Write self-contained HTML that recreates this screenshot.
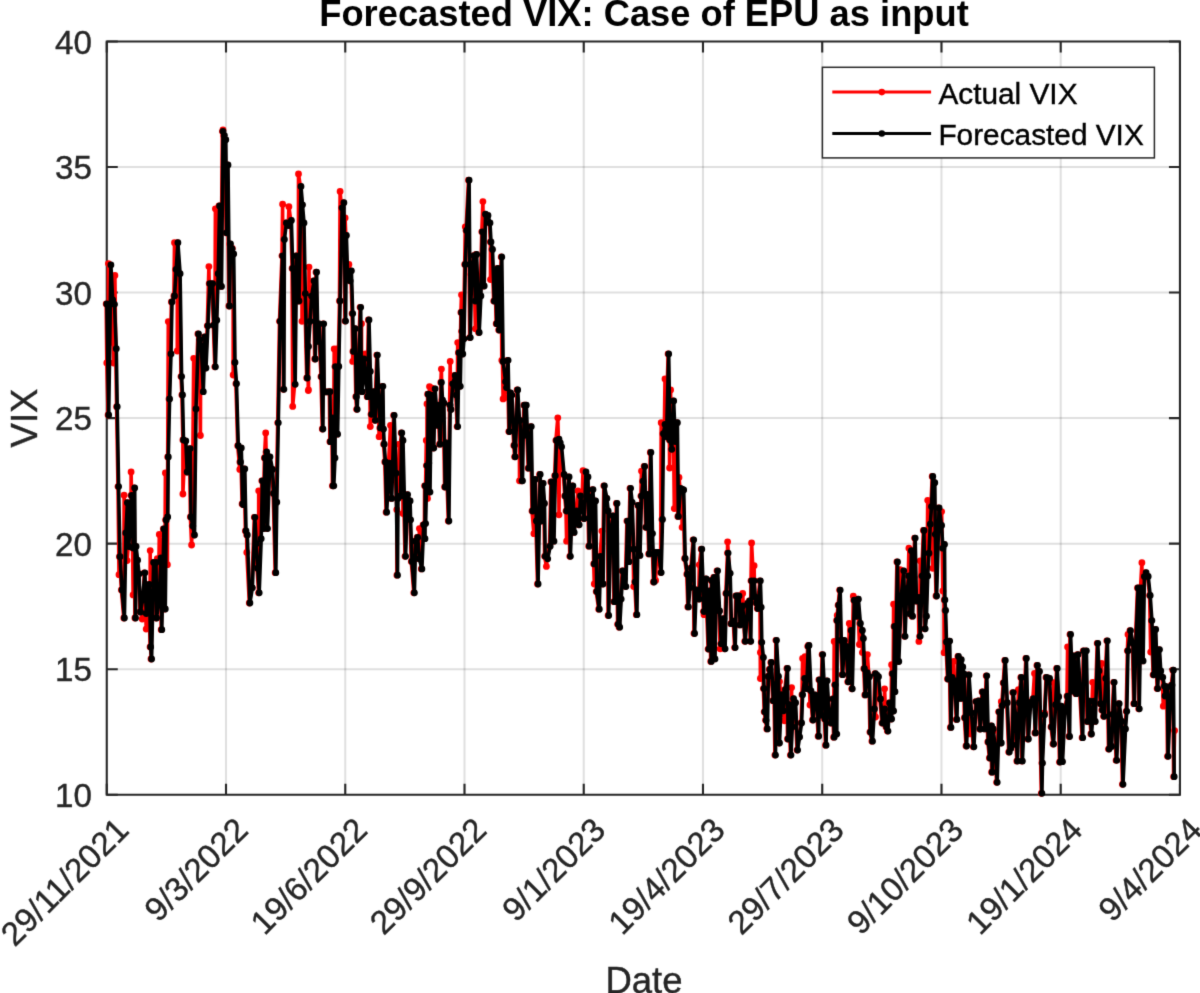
<!DOCTYPE html>
<html><head><meta charset="utf-8"><title>Forecasted VIX</title>
<style>html,body{margin:0;padding:0;background:#fff;width:1200px;height:993px;overflow:hidden}body{position:relative}</style>
</head><body><div style="position:absolute;left:0;top:0;width:1200px;height:993px"><svg width="1200" height="993" viewBox="0 0 1200 993" style="position:absolute;left:0;top:0"><rect width="1200" height="993" fill="#fff"/><path d="M226.01 41.5V794.72M345.25 41.5V794.72M464.50 41.5V794.72M583.74 41.5V794.72M702.98 41.5V794.72M822.22 41.5V794.72M941.47 41.5V794.72M1060.71 41.5V794.72" stroke="rgba(38,38,38,0.15)" stroke-width="2" fill="none"/><path d="M106.77 669.18H1179.95M106.77 543.65H1179.95M106.77 418.11H1179.95M106.77 292.57H1179.95M106.77 167.04H1179.95" stroke="rgba(38,38,38,0.15)" stroke-width="2" fill="none"/><path d="M106.77 41.5H1179.95V794.72H106.77Z" stroke="#262626" stroke-width="2.1" fill="none"/><path d="M106.77 794.72v-11M106.77 41.5v11M226.01 794.72v-11M226.01 41.5v11M345.25 794.72v-11M345.25 41.5v11M464.50 794.72v-11M464.50 41.5v11M583.74 794.72v-11M583.74 41.5v11M702.98 794.72v-11M702.98 41.5v11M822.22 794.72v-11M822.22 41.5v11M941.47 794.72v-11M941.47 41.5v11M1060.71 794.72v-11M1060.71 41.5v11M1179.95 794.72v-11M1179.95 41.5v11M106.77 794.72h11M1179.95 794.72h-11M106.77 669.18h11M1179.95 669.18h-11M106.77 543.65h11M1179.95 543.65h-11M106.77 418.11h11M1179.95 418.11h-11M106.77 292.57h11M1179.95 292.57h-11M106.77 167.04h11M1179.95 167.04h-11M106.77 41.50h11M1179.95 41.50h-11" stroke="#262626" stroke-width="2.1" fill="none"/><path d="M106.2 304.0 L106.8 363.0 L108.1 415.0 L108.4 263.6 L110.3 265.0 L111.8 342.4 L112.1 300.0 L113.6 363.0 L113.9 304.3 L114.9 275.4 L115.7 348.7 L116.6 406.7 L118.0 486.6 L119.0 574.7 L119.4 556.7 L121.4 590.0 L123.8 618.0 L124.1 495.2 L125.3 533.0 L126.8 502.7 L127.1 560.6 L128.2 546.5 L129.7 521.0 L131.1 495.4 L131.1 472.0 L132.6 548.0 L133.1 594.9 L134.1 488.0 L134.9 618.0 L135.5 546.5 L137.0 560.2 L138.4 574.0 L139.9 612.0 L141.9 600.0 L142.2 619.0 L144.3 572.8 L145.7 613.6 L146.2 629.1 L147.2 599.0 L148.7 584.4 L150.1 647.0 L150.2 550.6 L151.0 659.0 L153.0 562.5 L155.4 562.5 L156.0 618.0 L157.3 558.6 L158.4 600.0 L159.3 534.5 L160.4 558.0 L161.2 629.7 L163.3 529.0 L164.7 609.0 L165.4 473.0 L165.6 520.0 L167.1 517.0 L167.4 564.7 L167.7 457.0 L168.3 321.6 L169.0 399.0 L170.4 354.0 L171.4 302.0 L173.9 296.0 L174.5 242.7 L175.6 269.4 L177.3 242.7 L177.3 351.0 L179.5 273.7 L181.0 376.6 L181.9 395.0 L182.9 440.0 L182.9 494.0 L185.2 441.0 L186.6 472.0 L188.1 460.3 L189.6 448.6 L190.4 517.0 L191.6 545.0 L192.2 526.0 L193.7 358.3 L193.9 535.0 L195.4 409.0 L197.9 334.0 L199.3 339.8 L200.4 435.5 L200.7 345.6 L202.7 391.7 L204.4 337.0 L205.4 368.0 L207.3 325.8 L208.9 266.6 L209.2 283.6 L210.6 283.6 L212.0 283.6 L213.4 325.2 L214.8 366.8 L215.4 208.8 L216.2 320.2 L217.6 273.7 L219.0 206.0 L220.9 286.4 L222.4 131.3 L223.0 129.9 L223.8 135.5 L225.2 139.7 L226.1 232.8 L227.4 165.0 L228.9 306.0 L229.9 244.0 L231.5 249.0 L232.3 248.3 L233.1 254.0 L233.2 375.0 L234.4 362.5 L235.9 383.7 L237.7 445.7 L239.8 469.4 L239.9 462.0 L240.7 448.0 L242.1 504.0 L243.0 504.7 L244.2 469.0 L245.4 531.0 L246.7 535.0 L246.8 552.5 L249.3 603.0 L251.8 587.8 L254.3 517.3 L255.6 543.7 L257.1 568.2 L258.6 592.8 L258.7 490.8 L260.6 538.7 L261.8 480.8 L263.1 528.6 L264.4 458.0 L265.7 432.9 L266.1 451.8 L266.9 528.6 L269.4 456.8 L271.9 469.4 L273.2 493.4 L275.2 572.7 L276.2 502.2 L277.7 422.8 L279.5 321.3 L282.0 255.8 L282.6 204.2 L283.3 389.3 L283.8 239.4 L285.8 223.0 L288.3 225.6 L288.9 206.7 L290.8 220.5 L292.1 268.4 L292.7 406.4 L294.6 384.3 L295.9 255.8 L298.4 301.0 L298.5 173.9 L300.4 186.5 L301.9 204.8 L302.0 321.3 L303.4 223.0 L304.7 293.6 L306.7 378.0 L307.9 346.5 L308.3 390.5 L308.5 390.0 L309.0 267.1 L309.4 321.3 L311.0 296.1 L313.5 281.0 L314.7 359.0 L316.0 272.2 L317.3 341.4 L318.5 323.8 L321.0 376.7 L322.3 429.0 L323.1 323.8 L323.6 391.8 L325.5 391.8 L327.4 391.8 L329.4 391.7 L329.9 441.7 L331.9 417.8 L332.4 485.8 L333.2 485.8 L334.2 349.0 L334.4 458.0 L334.9 366.6 L336.3 348.8 L337.0 434.2 L338.2 366.5 L339.5 301.0 L340.1 191.4 L341.5 207.8 L343.3 202.7 L345.0 321.1 L345.1 217.9 L345.8 235.5 L347.0 275.8 L348.9 264.5 L349.6 280.8 L350.8 270.8 L352.1 313.6 L352.7 361.4 L352.9 351.4 L354.6 328.7 L355.8 396.7 L356.6 409.3 L358.4 361.4 L360.1 307.3 L360.9 391.3 L361.5 323.7 L361.6 391.7 L363.4 358.9 L364.7 376.5 L365.3 353.9 L367.2 396.7 L368.4 319.9 L369.7 371.5 L370.3 426.6 L371.0 414.3 L373.5 391.7 L374.7 420.3 L376.8 355.1 L378.5 404.3 L379.1 436.7 L379.8 427.9 L382.3 386.3 L382.9 429.1 L383.6 444.2 L384.8 461.9 L386.1 512.2 L388.6 463.1 L390.5 425.3 L391.1 498.4 L393.6 415.3 L395.4 473.2 L396.8 509.7 L396.9 575.2 L397.4 498.4 L399.3 444.2 L399.9 495.9 L401.2 432.9 L402.4 440.5 L403.0 513.5 L403.7 495.9 L405.0 556.3 L407.0 494.6 L409.5 500.9 L410.0 519.8 L411.3 561.4 L413.8 592.8 L415.0 541.2 L417.1 537.4 L418.8 558.8 L419.4 528.6 L421.3 568.9 L423.1 524.8 L424.4 538.7 L424.6 485.8 L425.0 523.6 L426.3 440.5 L426.4 465.6 L426.9 490.8 L427.0 403.9 L427.5 498.4 L427.6 394.2 L428.2 463.1 L428.9 395.0 L429.4 492.1 L429.5 386.6 L430.7 395.1 L431.3 388.0 L431.9 420.0 L433.2 448.0 L434.5 388.8 L437.0 425.3 L438.3 405.2 L439.5 444.2 L440.8 382.5 L441.4 369.1 L442.0 400.2 L443.3 403.0 L444.6 487.0 L445.8 443.0 L448.3 521.0 L449.6 405.2 L450.2 361.5 L450.4 409.4 L452.1 383.8 L454.6 375.4 L455.9 395.1 L457.1 426.6 L457.7 342.6 L458.4 352.7 L459.7 386.3 L460.9 312.4 L461.5 294.8 L461.6 331.3 L462.2 354.0 L463.4 338.8 L464.7 264.5 L465.3 226.8 L466.0 230.5 L468.5 180.2 L469.7 337.6 L471.0 274.6 L473.5 255.7 L474.8 301.1 L475.4 328.8 L476.0 254.5 L478.6 332.5 L480.3 296.0 L481.8 231.8 L482.9 201.6 L483.6 286.0 L484.9 214.2 L487.4 215.4 L489.4 223.0 L490.4 241.9 L490.5 279.6 L491.9 249.4 L493.7 301.1 L494.9 272.1 L496.2 323.7 L497.4 268.3 L498.7 330.0 L501.2 257.0 L501.8 360.3 L502.5 361.5 L503.1 398.9 L504.3 398.0 L505.0 381.7 L505.9 387.6 L507.5 360.3 L508.8 431.6 L510.0 393.0 L511.3 395.1 L513.8 445.5 L514.6 456.8 L517.1 390.0 L518.9 420.3 L519.4 420.3 L519.5 480.8 L521.4 480.8 L521.9 480.8 L522.6 434.2 L523.2 435.4 L523.9 405.2 L525.7 405.2 L528.2 468.2 L530.7 426.6 L532.0 511.0 L533.9 533.7 L534.5 479.5 L535.8 521.0 L537.5 584.0 L539.6 474.5 L540.8 521.0 L542.6 483.3 L543.9 503.4 L544.6 556.3 L546.4 566.4 L547.1 558.8 L549.6 546.2 L550.9 482.0 L553.4 541.2 L554.7 475.7 L555.9 440.5 L557.8 417.8 L558.4 439.2 L559.0 514.8 L559.7 443.0 L561.0 446.8 L563.5 474.5 L564.7 495.9 L566.0 511.0 L566.6 541.2 L568.5 477.0 L569.8 556.3 L572.3 485.8 L573.6 532.4 L576.1 511.0 L577.9 490.8 L578.6 524.8 L579.9 495.9 L581.8 507.2 L583.0 470.7 L583.6 518.5 L585.4 471.9 L587.4 477.0 L588.7 546.2 L591.2 497.1 L592.4 489.6 L593.7 563.9 L594.3 584.0 L595.0 500.9 L596.2 591.6 L598.7 609.2 L600.0 556.3 L601.9 531.1 L602.5 584.0 L603.8 485.8 L606.3 498.4 L607.6 511.0 L608.1 615.5 L610.1 531.1 L612.6 516.0 L613.9 601.7 L616.4 503.4 L617.6 624.3 L619.1 627.2 L620.6 599.1 L622.2 571.0 L623.7 578.8 L625.3 586.6 L626.9 521.1 L628.4 561.7 L630.0 488.3 L631.6 502.3 L633.1 549.2 L633.7 586.6 L634.7 582.0 L636.3 614.7 L637.8 505.5 L639.4 555.4 L640.9 496.1 L641.5 471.1 L642.5 481.2 L644.1 466.4 L645.6 527.3 L647.2 494.5 L648.7 553.9 L650.3 452.4 L651.9 533.6 L653.4 582.0 L655.0 552.3 L655.6 580.4 L656.6 552.3 L658.1 552.3 L660.6 572.6 L661.2 422.7 L661.9 519.5 L662.8 433.7 L664.4 424.3 L665.0 379.0 L665.9 436.8 L668.1 354.0 L669.4 439.9 L669.6 468.0 L670.6 390.0 L671.2 449.3 L673.1 400.9 L674.3 508.6 L674.7 441.5 L676.8 422.7 L677.8 516.4 L679.0 477.4 L680.0 488.3 L681.6 489.1 L682.1 527.3 L683.1 489.9 L684.6 558.5 L686.8 574.2 L687.8 606.9 L689.4 587.4 L690.9 567.9 L693.1 539.8 L694.0 633.5 L695.6 589.8 L697.1 594.5 L698.7 599.1 L699.3 564.8 L701.2 549.2 L703.4 611.6 L704.0 614.7 L705.6 578.8 L708.1 649.1 L709.4 590.9 L710.7 661.4 L711.2 580.4 L711.9 580.8 L713.7 577.3 L714.4 658.9 L715.7 584.6 L717.0 570.8 L719.0 611.0 L720.1 648.8 L720.7 643.8 L722.0 631.2 L723.3 618.6 L724.5 648.8 L725.8 593.4 L727.5 553.1 L727.6 541.8 L729.6 573.3 L730.8 623.7 L733.3 621.1 L734.6 647.6 L735.8 595.9 L737.1 595.9 L738.4 595.9 L739.6 624.9 L742.1 606.0 L742.7 593.4 L744.7 641.3 L747.2 603.5 L749.2 601.0 L750.2 641.3 L751.0 580.8 L751.6 543.0 L753.5 580.8 L754.1 565.7 L754.7 597.2 L756.0 602.9 L757.3 608.5 L759.8 580.8 L760.4 678.5 L760.4 652.4 L760.6 607.3 L761.2 642.3 L762.8 657.4 L763.4 688.6 L764.2 711.8 L765.5 720.3 L766.8 728.9 L767.8 676.5 L769.3 669.5 L770.8 662.4 L772.8 700.7 L773.9 684.6 L774.9 755.1 L775.9 640.3 L777.9 676.5 L778.9 743.0 L779.5 681.6 L780.9 694.7 L782.9 710.8 L784.5 720.8 L784.9 689.6 L786.9 668.5 L787.5 739.0 L789.0 704.7 L790.4 755.1 L791.6 687.6 L791.7 726.9 L793.0 698.7 L795.0 702.7 L797.0 750.1 L799.0 737.0 L801.0 722.9 L802.0 694.7 L802.6 658.4 L804.1 678.5 L805.0 656.6 L806.1 688.6 L807.7 646.3 L808.4 645.5 L810.0 705.0 L810.4 690.8 L812.5 720.0 L814.5 694.9 L816.5 702.9 L818.1 736.2 L818.9 679.8 L820.5 715.0 L822.1 654.6 L823.5 682.8 L824.5 719.0 L825.5 745.2 L826.6 680.8 L828.6 715.0 L830.6 723.1 L832.6 698.9 L833.6 737.2 L834.2 641.5 L834.6 684.8 L836.2 734.1 L836.6 620.4 L837.2 615.3 L838.1 605.2 L839.6 590.1 L840.7 640.5 L842.1 674.7 L843.7 640.5 L845.7 646.5 L847.7 681.8 L848.7 653.6 L849.3 623.4 L850.7 630.4 L851.7 688.8 L853.3 596.2 L853.7 600.2 L855.8 616.3 L857.8 599.2 L859.4 644.5 L859.8 623.4 L861.8 630.4 L862.4 652.6 L862.8 638.5 L863.8 668.7 L864.8 694.9 L866.8 672.7 L867.4 654.6 L868.9 676.7 L869.9 732.1 L871.9 741.2 L873.9 709.0 L874.9 673.7 L875.5 717.0 L876.4 675.2 L877.9 676.7 L879.9 698.9 L881.9 723.1 L884.0 709.0 L884.6 688.8 L886.0 727.1 L887.4 731.1 L889.0 702.9 L891.0 719.0 L891.6 664.7 L892.0 673.7 L893.0 711.0 L893.6 604.2 L894.0 626.4 L894.4 691.7 L896.9 562.0 L898.2 661.5 L900.0 569.6 L900.7 596.0 L903.2 570.8 L904.5 636.3 L905.7 601.1 L907.0 588.5 L908.3 575.9 L908.9 548.2 L909.5 613.7 L910.8 550.7 L912.0 616.2 L913.3 577.2 L914.6 538.1 L915.8 601.1 L918.3 597.3 L918.9 641.4 L919.6 636.3 L920.2 560.8 L921.6 575.9 L923.4 530.5 L924.6 628.8 L925.9 616.2 L927.1 575.9 L927.7 500.3 L928.4 553.2 L929.7 524.2 L930.9 506.6 L932.2 476.4 L932.8 568.3 L934.2 482.7 L934.7 534.3 L936.0 596.0 L938.5 507.9 L941.0 525.5 L941.6 511.6 L942.3 548.2 L942.9 591.0 L943.9 544.4 L944.1 652.7 L944.3 600.0 L945.0 610.5 L945.9 641.9 L947.5 679.0 L949.1 641.1 L950.4 727.4 L951.5 677.4 L953.7 661.3 L953.9 680.6 L956.3 719.4 L957.9 656.5 L960.4 698.4 L960.7 659.7 L961.8 695.2 L962.1 667.0 L963.6 674.2 L964.4 717.7 L966.0 746.0 L968.4 675.0 L969.0 718.8 L969.8 733.9 L970.9 712.9 L973.3 746.8 L975.7 701.6 L978.1 700.8 L979.7 729.0 L982.1 691.9 L984.5 728.9 L986.2 675.8 L987.8 741.9 L989.4 758.0 L991.0 725.8 L991.6 772.2 L992.6 728.9 L993.2 730.9 L994.6 748.0 L996.6 782.3 L998.6 711.8 L1000.7 743.0 L1001.3 701.7 L1001.7 705.7 L1003.2 683.0 L1004.7 660.4 L1006.7 702.7 L1008.7 752.1 L1010.2 748.5 L1011.7 745.0 L1012.7 692.6 L1014.8 714.8 L1016.8 761.1 L1018.4 689.6 L1018.8 702.7 L1020.8 677.5 L1021.8 761.1 L1023.8 712.8 L1025.8 658.4 L1027.8 739.0 L1029.9 704.7 L1031.4 701.7 L1032.9 698.7 L1034.5 673.5 L1034.9 732.9 L1036.9 665.5 L1038.9 671.5 L1041.3 793.3 L1041.9 763.1 L1044.0 714.8 L1044.6 712.8 L1046.0 677.5 L1047.5 678.0 L1049.0 678.5 L1051.0 726.9 L1053.0 744.0 L1053.6 682.6 L1055.0 704.7 L1056.6 668.5 L1058.1 696.7 L1059.5 762.1 L1060.7 706.2 L1061.9 761.7 L1064.4 711.3 L1067.0 696.2 L1067.6 647.0 L1069.0 736.5 L1070.0 634.5 L1072.0 691.1 L1073.3 655.9 L1075.8 693.7 L1077.5 654.6 L1079.6 688.6 L1082.1 737.7 L1083.3 650.8 L1085.8 650.8 L1087.1 721.4 L1089.1 701.2 L1090.9 734.0 L1092.7 682.3 L1093.4 701.2 L1094.7 721.4 L1097.2 643.3 L1098.4 671.0 L1100.2 703.7 L1101.6 663.4 L1101.8 710.0 L1103.5 716.3 L1105.2 678.5 L1106.8 640.8 L1108.5 749.1 L1111.0 746.5 L1112.3 714.4 L1113.6 682.3 L1116.1 760.4 L1118.6 703.7 L1121.1 721.4 L1122.4 784.3 L1124.9 728.9 L1126.2 711.3 L1127.4 650.8 L1128.0 634.5 L1129.9 630.7 L1132.4 643.3 L1133.7 703.7 L1135.0 650.8 L1137.5 587.9 L1138.7 708.8 L1140.5 587.9 L1141.9 562.7 L1142.5 660.9 L1143.8 576.5 L1145.5 572.7 L1147.6 576.5 L1149.6 595.4 L1150.7 652.1 L1151.3 620.6 L1153.1 674.8 L1155.1 629.4 L1157.1 688.6 L1158.9 649.6 L1160.2 671.0 L1162.2 677.3 L1163.3 706.2 L1163.9 686.1 L1164.5 696.0 L1166.8 687.0 L1167.5 756.3 L1169.9 700.0 L1171.4 685.1 L1172.8 670.2 L1173.6 776.7 L1174.6 730.6" stroke="#ff0000" stroke-width="3.6" fill="none" stroke-linejoin="round"/><path d="M106.2 304.0h0M106.8 363.0h0M108.1 415.0h0M108.4 263.6h0M110.3 265.0h0M111.8 342.4h0M112.1 300.0h0M113.6 363.0h0M113.9 304.3h0M114.9 275.4h0M115.7 348.7h0M116.6 406.7h0M118.0 486.6h0M119.0 574.7h0M119.4 556.7h0M121.4 590.0h0M123.8 618.0h0M124.1 495.2h0M125.3 533.0h0M126.8 502.7h0M127.1 560.6h0M128.2 546.5h0M129.7 521.0h0M131.1 495.4h0M131.1 472.0h0M132.6 548.0h0M133.1 594.9h0M134.1 488.0h0M134.9 618.0h0M135.5 546.5h0M137.0 560.2h0M138.4 574.0h0M139.9 612.0h0M141.9 600.0h0M142.2 619.0h0M144.3 572.8h0M145.7 613.6h0M146.2 629.1h0M147.2 599.0h0M148.7 584.4h0M150.1 647.0h0M150.2 550.6h0M151.0 659.0h0M153.0 562.5h0M155.4 562.5h0M156.0 618.0h0M157.3 558.6h0M158.4 600.0h0M159.3 534.5h0M160.4 558.0h0M161.2 629.7h0M163.3 529.0h0M164.7 609.0h0M165.4 473.0h0M165.6 520.0h0M167.1 517.0h0M167.4 564.7h0M167.7 457.0h0M168.3 321.6h0M169.0 399.0h0M170.4 354.0h0M171.4 302.0h0M173.9 296.0h0M174.5 242.7h0M175.6 269.4h0M177.3 242.7h0M177.3 351.0h0M179.5 273.7h0M181.0 376.6h0M181.9 395.0h0M182.9 440.0h0M182.9 494.0h0M185.2 441.0h0M186.6 472.0h0M188.1 460.3h0M189.6 448.6h0M190.4 517.0h0M191.6 545.0h0M192.2 526.0h0M193.7 358.3h0M193.9 535.0h0M195.4 409.0h0M197.9 334.0h0M199.3 339.8h0M200.4 435.5h0M200.7 345.6h0M202.7 391.7h0M204.4 337.0h0M205.4 368.0h0M207.3 325.8h0M208.9 266.6h0M209.2 283.6h0M210.6 283.6h0M212.0 283.6h0M213.4 325.2h0M214.8 366.8h0M215.4 208.8h0M216.2 320.2h0M217.6 273.7h0M219.0 206.0h0M220.9 286.4h0M222.4 131.3h0M223.0 129.9h0M223.8 135.5h0M225.2 139.7h0M226.1 232.8h0M227.4 165.0h0M228.9 306.0h0M229.9 244.0h0M231.5 249.0h0M232.3 248.3h0M233.1 254.0h0M233.2 375.0h0M234.4 362.5h0M235.9 383.7h0M237.7 445.7h0M239.8 469.4h0M239.9 462.0h0M240.7 448.0h0M242.1 504.0h0M243.0 504.7h0M244.2 469.0h0M245.4 531.0h0M246.7 535.0h0M246.8 552.5h0M249.3 603.0h0M251.8 587.8h0M254.3 517.3h0M255.6 543.7h0M257.1 568.2h0M258.6 592.8h0M258.7 490.8h0M260.6 538.7h0M261.8 480.8h0M263.1 528.6h0M264.4 458.0h0M265.7 432.9h0M266.1 451.8h0M266.9 528.6h0M269.4 456.8h0M271.9 469.4h0M273.2 493.4h0M275.2 572.7h0M276.2 502.2h0M277.7 422.8h0M279.5 321.3h0M282.0 255.8h0M282.6 204.2h0M283.3 389.3h0M283.8 239.4h0M285.8 223.0h0M288.3 225.6h0M288.9 206.7h0M290.8 220.5h0M292.1 268.4h0M292.7 406.4h0M294.6 384.3h0M295.9 255.8h0M298.4 301.0h0M298.5 173.9h0M300.4 186.5h0M301.9 204.8h0M302.0 321.3h0M303.4 223.0h0M304.7 293.6h0M306.7 378.0h0M307.9 346.5h0M308.3 390.5h0M308.5 390.0h0M309.0 267.1h0M309.4 321.3h0M311.0 296.1h0M313.5 281.0h0M314.7 359.0h0M316.0 272.2h0M317.3 341.4h0M318.5 323.8h0M321.0 376.7h0M322.3 429.0h0M323.1 323.8h0M323.6 391.8h0M325.5 391.8h0M327.4 391.8h0M329.4 391.7h0M329.9 441.7h0M331.9 417.8h0M332.4 485.8h0M333.2 485.8h0M334.2 349.0h0M334.4 458.0h0M334.9 366.6h0M336.3 348.8h0M337.0 434.2h0M338.2 366.5h0M339.5 301.0h0M340.1 191.4h0M341.5 207.8h0M343.3 202.7h0M345.0 321.1h0M345.1 217.9h0M345.8 235.5h0M347.0 275.8h0M348.9 264.5h0M349.6 280.8h0M350.8 270.8h0M352.1 313.6h0M352.7 361.4h0M352.9 351.4h0M354.6 328.7h0M355.8 396.7h0M356.6 409.3h0M358.4 361.4h0M360.1 307.3h0M360.9 391.3h0M361.5 323.7h0M361.6 391.7h0M363.4 358.9h0M364.7 376.5h0M365.3 353.9h0M367.2 396.7h0M368.4 319.9h0M369.7 371.5h0M370.3 426.6h0M371.0 414.3h0M373.5 391.7h0M374.7 420.3h0M376.8 355.1h0M378.5 404.3h0M379.1 436.7h0M379.8 427.9h0M382.3 386.3h0M382.9 429.1h0M383.6 444.2h0M384.8 461.9h0M386.1 512.2h0M388.6 463.1h0M390.5 425.3h0M391.1 498.4h0M393.6 415.3h0M395.4 473.2h0M396.8 509.7h0M396.9 575.2h0M397.4 498.4h0M399.3 444.2h0M399.9 495.9h0M401.2 432.9h0M402.4 440.5h0M403.0 513.5h0M403.7 495.9h0M405.0 556.3h0M407.0 494.6h0M409.5 500.9h0M410.0 519.8h0M411.3 561.4h0M413.8 592.8h0M415.0 541.2h0M417.1 537.4h0M418.8 558.8h0M419.4 528.6h0M421.3 568.9h0M423.1 524.8h0M424.4 538.7h0M424.6 485.8h0M425.0 523.6h0M426.3 440.5h0M426.4 465.6h0M426.9 490.8h0M427.0 403.9h0M427.5 498.4h0M427.6 394.2h0M428.2 463.1h0M428.9 395.0h0M429.4 492.1h0M429.5 386.6h0M430.7 395.1h0M431.3 388.0h0M431.9 420.0h0M433.2 448.0h0M434.5 388.8h0M437.0 425.3h0M438.3 405.2h0M439.5 444.2h0M440.8 382.5h0M441.4 369.1h0M442.0 400.2h0M443.3 403.0h0M444.6 487.0h0M445.8 443.0h0M448.3 521.0h0M449.6 405.2h0M450.2 361.5h0M450.4 409.4h0M452.1 383.8h0M454.6 375.4h0M455.9 395.1h0M457.1 426.6h0M457.7 342.6h0M458.4 352.7h0M459.7 386.3h0M460.9 312.4h0M461.5 294.8h0M461.6 331.3h0M462.2 354.0h0M463.4 338.8h0M464.7 264.5h0M465.3 226.8h0M466.0 230.5h0M468.5 180.2h0M469.7 337.6h0M471.0 274.6h0M473.5 255.7h0M474.8 301.1h0M475.4 328.8h0M476.0 254.5h0M478.6 332.5h0M480.3 296.0h0M481.8 231.8h0M482.9 201.6h0M483.6 286.0h0M484.9 214.2h0M487.4 215.4h0M489.4 223.0h0M490.4 241.9h0M490.5 279.6h0M491.9 249.4h0M493.7 301.1h0M494.9 272.1h0M496.2 323.7h0M497.4 268.3h0M498.7 330.0h0M501.2 257.0h0M501.8 360.3h0M502.5 361.5h0M503.1 398.9h0M504.3 398.0h0M505.0 381.7h0M505.9 387.6h0M507.5 360.3h0M508.8 431.6h0M510.0 393.0h0M511.3 395.1h0M513.8 445.5h0M514.6 456.8h0M517.1 390.0h0M518.9 420.3h0M519.4 420.3h0M519.5 480.8h0M521.4 480.8h0M521.9 480.8h0M522.6 434.2h0M523.2 435.4h0M523.9 405.2h0M525.7 405.2h0M528.2 468.2h0M530.7 426.6h0M532.0 511.0h0M533.9 533.7h0M534.5 479.5h0M535.8 521.0h0M537.5 584.0h0M539.6 474.5h0M540.8 521.0h0M542.6 483.3h0M543.9 503.4h0M544.6 556.3h0M546.4 566.4h0M547.1 558.8h0M549.6 546.2h0M550.9 482.0h0M553.4 541.2h0M554.7 475.7h0M555.9 440.5h0M557.8 417.8h0M558.4 439.2h0M559.0 514.8h0M559.7 443.0h0M561.0 446.8h0M563.5 474.5h0M564.7 495.9h0M566.0 511.0h0M566.6 541.2h0M568.5 477.0h0M569.8 556.3h0M572.3 485.8h0M573.6 532.4h0M576.1 511.0h0M577.9 490.8h0M578.6 524.8h0M579.9 495.9h0M581.8 507.2h0M583.0 470.7h0M583.6 518.5h0M585.4 471.9h0M587.4 477.0h0M588.7 546.2h0M591.2 497.1h0M592.4 489.6h0M593.7 563.9h0M594.3 584.0h0M595.0 500.9h0M596.2 591.6h0M598.7 609.2h0M600.0 556.3h0M601.9 531.1h0M602.5 584.0h0M603.8 485.8h0M606.3 498.4h0M607.6 511.0h0M608.1 615.5h0M610.1 531.1h0M612.6 516.0h0M613.9 601.7h0M616.4 503.4h0M617.6 624.3h0M619.1 627.2h0M620.6 599.1h0M622.2 571.0h0M623.7 578.8h0M625.3 586.6h0M626.9 521.1h0M628.4 561.7h0M630.0 488.3h0M631.6 502.3h0M633.1 549.2h0M633.7 586.6h0M634.7 582.0h0M636.3 614.7h0M637.8 505.5h0M639.4 555.4h0M640.9 496.1h0M641.5 471.1h0M642.5 481.2h0M644.1 466.4h0M645.6 527.3h0M647.2 494.5h0M648.7 553.9h0M650.3 452.4h0M651.9 533.6h0M653.4 582.0h0M655.0 552.3h0M655.6 580.4h0M656.6 552.3h0M658.1 552.3h0M660.6 572.6h0M661.2 422.7h0M661.9 519.5h0M662.8 433.7h0M664.4 424.3h0M665.0 379.0h0M665.9 436.8h0M668.1 354.0h0M669.4 439.9h0M669.6 468.0h0M670.6 390.0h0M671.2 449.3h0M673.1 400.9h0M674.3 508.6h0M674.7 441.5h0M676.8 422.7h0M677.8 516.4h0M679.0 477.4h0M680.0 488.3h0M681.6 489.1h0M682.1 527.3h0M683.1 489.9h0M684.6 558.5h0M686.8 574.2h0M687.8 606.9h0M689.4 587.4h0M690.9 567.9h0M693.1 539.8h0M694.0 633.5h0M695.6 589.8h0M697.1 594.5h0M698.7 599.1h0M699.3 564.8h0M701.2 549.2h0M703.4 611.6h0M704.0 614.7h0M705.6 578.8h0M708.1 649.1h0M709.4 590.9h0M710.7 661.4h0M711.2 580.4h0M711.9 580.8h0M713.7 577.3h0M714.4 658.9h0M715.7 584.6h0M717.0 570.8h0M719.0 611.0h0M720.1 648.8h0M720.7 643.8h0M722.0 631.2h0M723.3 618.6h0M724.5 648.8h0M725.8 593.4h0M727.5 553.1h0M727.6 541.8h0M729.6 573.3h0M730.8 623.7h0M733.3 621.1h0M734.6 647.6h0M735.8 595.9h0M737.1 595.9h0M738.4 595.9h0M739.6 624.9h0M742.1 606.0h0M742.7 593.4h0M744.7 641.3h0M747.2 603.5h0M749.2 601.0h0M750.2 641.3h0M751.0 580.8h0M751.6 543.0h0M753.5 580.8h0M754.1 565.7h0M754.7 597.2h0M756.0 602.9h0M757.3 608.5h0M759.8 580.8h0M760.4 678.5h0M760.4 652.4h0M760.6 607.3h0M761.2 642.3h0M762.8 657.4h0M763.4 688.6h0M764.2 711.8h0M765.5 720.3h0M766.8 728.9h0M767.8 676.5h0M769.3 669.5h0M770.8 662.4h0M772.8 700.7h0M773.9 684.6h0M774.9 755.1h0M775.9 640.3h0M777.9 676.5h0M778.9 743.0h0M779.5 681.6h0M780.9 694.7h0M782.9 710.8h0M784.5 720.8h0M784.9 689.6h0M786.9 668.5h0M787.5 739.0h0M789.0 704.7h0M790.4 755.1h0M791.6 687.6h0M791.7 726.9h0M793.0 698.7h0M795.0 702.7h0M797.0 750.1h0M799.0 737.0h0M801.0 722.9h0M802.0 694.7h0M802.6 658.4h0M804.1 678.5h0M805.0 656.6h0M806.1 688.6h0M807.7 646.3h0M808.4 645.5h0M810.0 705.0h0M810.4 690.8h0M812.5 720.0h0M814.5 694.9h0M816.5 702.9h0M818.1 736.2h0M818.9 679.8h0M820.5 715.0h0M822.1 654.6h0M823.5 682.8h0M824.5 719.0h0M825.5 745.2h0M826.6 680.8h0M828.6 715.0h0M830.6 723.1h0M832.6 698.9h0M833.6 737.2h0M834.2 641.5h0M834.6 684.8h0M836.2 734.1h0M836.6 620.4h0M837.2 615.3h0M838.1 605.2h0M839.6 590.1h0M840.7 640.5h0M842.1 674.7h0M843.7 640.5h0M845.7 646.5h0M847.7 681.8h0M848.7 653.6h0M849.3 623.4h0M850.7 630.4h0M851.7 688.8h0M853.3 596.2h0M853.7 600.2h0M855.8 616.3h0M857.8 599.2h0M859.4 644.5h0M859.8 623.4h0M861.8 630.4h0M862.4 652.6h0M862.8 638.5h0M863.8 668.7h0M864.8 694.9h0M866.8 672.7h0M867.4 654.6h0M868.9 676.7h0M869.9 732.1h0M871.9 741.2h0M873.9 709.0h0M874.9 673.7h0M875.5 717.0h0M876.4 675.2h0M877.9 676.7h0M879.9 698.9h0M881.9 723.1h0M884.0 709.0h0M884.6 688.8h0M886.0 727.1h0M887.4 731.1h0M889.0 702.9h0M891.0 719.0h0M891.6 664.7h0M892.0 673.7h0M893.0 711.0h0M893.6 604.2h0M894.0 626.4h0M894.4 691.7h0M896.9 562.0h0M898.2 661.5h0M900.0 569.6h0M900.7 596.0h0M903.2 570.8h0M904.5 636.3h0M905.7 601.1h0M907.0 588.5h0M908.3 575.9h0M908.9 548.2h0M909.5 613.7h0M910.8 550.7h0M912.0 616.2h0M913.3 577.2h0M914.6 538.1h0M915.8 601.1h0M918.3 597.3h0M918.9 641.4h0M919.6 636.3h0M920.2 560.8h0M921.6 575.9h0M923.4 530.5h0M924.6 628.8h0M925.9 616.2h0M927.1 575.9h0M927.7 500.3h0M928.4 553.2h0M929.7 524.2h0M930.9 506.6h0M932.2 476.4h0M932.8 568.3h0M934.2 482.7h0M934.7 534.3h0M936.0 596.0h0M938.5 507.9h0M941.0 525.5h0M941.6 511.6h0M942.3 548.2h0M942.9 591.0h0M943.9 544.4h0M944.1 652.7h0M944.3 600.0h0M945.0 610.5h0M945.9 641.9h0M947.5 679.0h0M949.1 641.1h0M950.4 727.4h0M951.5 677.4h0M953.7 661.3h0M953.9 680.6h0M956.3 719.4h0M957.9 656.5h0M960.4 698.4h0M960.7 659.7h0M961.8 695.2h0M962.1 667.0h0M963.6 674.2h0M964.4 717.7h0M966.0 746.0h0M968.4 675.0h0M969.0 718.8h0M969.8 733.9h0M970.9 712.9h0M973.3 746.8h0M975.7 701.6h0M978.1 700.8h0M979.7 729.0h0M982.1 691.9h0M984.5 728.9h0M986.2 675.8h0M987.8 741.9h0M989.4 758.0h0M991.0 725.8h0M991.6 772.2h0M992.6 728.9h0M993.2 730.9h0M994.6 748.0h0M996.6 782.3h0M998.6 711.8h0M1000.7 743.0h0M1001.3 701.7h0M1001.7 705.7h0M1003.2 683.0h0M1004.7 660.4h0M1006.7 702.7h0M1008.7 752.1h0M1010.2 748.5h0M1011.7 745.0h0M1012.7 692.6h0M1014.8 714.8h0M1016.8 761.1h0M1018.4 689.6h0M1018.8 702.7h0M1020.8 677.5h0M1021.8 761.1h0M1023.8 712.8h0M1025.8 658.4h0M1027.8 739.0h0M1029.9 704.7h0M1031.4 701.7h0M1032.9 698.7h0M1034.5 673.5h0M1034.9 732.9h0M1036.9 665.5h0M1038.9 671.5h0M1041.3 793.3h0M1041.9 763.1h0M1044.0 714.8h0M1044.6 712.8h0M1046.0 677.5h0M1047.5 678.0h0M1049.0 678.5h0M1051.0 726.9h0M1053.0 744.0h0M1053.6 682.6h0M1055.0 704.7h0M1056.6 668.5h0M1058.1 696.7h0M1059.5 762.1h0M1060.7 706.2h0M1061.9 761.7h0M1064.4 711.3h0M1067.0 696.2h0M1067.6 647.0h0M1069.0 736.5h0M1070.0 634.5h0M1072.0 691.1h0M1073.3 655.9h0M1075.8 693.7h0M1077.5 654.6h0M1079.6 688.6h0M1082.1 737.7h0M1083.3 650.8h0M1085.8 650.8h0M1087.1 721.4h0M1089.1 701.2h0M1090.9 734.0h0M1092.7 682.3h0M1093.4 701.2h0M1094.7 721.4h0M1097.2 643.3h0M1098.4 671.0h0M1100.2 703.7h0M1101.6 663.4h0M1101.8 710.0h0M1103.5 716.3h0M1105.2 678.5h0M1106.8 640.8h0M1108.5 749.1h0M1111.0 746.5h0M1112.3 714.4h0M1113.6 682.3h0M1116.1 760.4h0M1118.6 703.7h0M1121.1 721.4h0M1122.4 784.3h0M1124.9 728.9h0M1126.2 711.3h0M1127.4 650.8h0M1128.0 634.5h0M1129.9 630.7h0M1132.4 643.3h0M1133.7 703.7h0M1135.0 650.8h0M1137.5 587.9h0M1138.7 708.8h0M1140.5 587.9h0M1141.9 562.7h0M1142.5 660.9h0M1143.8 576.5h0M1145.5 572.7h0M1147.6 576.5h0M1149.6 595.4h0M1150.7 652.1h0M1151.3 620.6h0M1153.1 674.8h0M1155.1 629.4h0M1157.1 688.6h0M1158.9 649.6h0M1160.2 671.0h0M1162.2 677.3h0M1163.3 706.2h0M1163.9 686.1h0M1164.5 696.0h0M1166.8 687.0h0M1167.5 756.3h0M1169.9 700.0h0M1171.4 685.1h0M1172.8 670.2h0M1173.6 776.7h0M1174.6 730.6h0" stroke="#ff0000" stroke-width="6.8" stroke-linecap="round" fill="none"/><path d="M106.8 304.0 L108.7 415.0 L110.9 265.0 L112.7 300.0 L114.5 304.3 L116.3 348.7 L117.2 406.7 L118.6 486.6 L120.0 556.7 L122.0 590.0 L124.4 618.0 L125.9 533.0 L127.4 502.7 L128.8 546.5 L130.2 521.0 L131.7 495.4 L133.2 548.0 L134.7 488.0 L135.5 618.0 L136.1 546.5 L137.6 560.2 L139.0 574.0 L140.5 612.0 L142.5 600.0 L144.9 572.8 L146.3 613.6 L147.8 599.0 L149.3 584.4 L150.7 647.0 L151.6 659.0 L153.6 562.5 L156.0 562.5 L156.6 618.0 L159.0 600.0 L161.0 558.0 L161.8 629.7 L163.9 529.0 L165.3 609.0 L166.2 520.0 L167.7 517.0 L168.3 457.0 L169.6 399.0 L171.0 354.0 L172.0 302.0 L174.5 296.0 L176.2 269.4 L177.9 242.7 L180.1 273.7 L181.6 376.6 L182.5 395.0 L183.5 440.0 L185.8 441.0 L187.2 472.0 L188.7 460.3 L190.2 448.6 L191.0 517.0 L192.8 526.0 L194.5 535.0 L196.0 409.0 L198.5 334.0 L199.9 339.8 L201.3 345.6 L203.3 391.7 L205.0 337.0 L206.0 368.0 L207.9 325.8 L209.8 283.6 L211.2 283.6 L212.6 283.6 L214.0 325.2 L215.4 366.8 L216.8 320.2 L218.2 273.7 L219.6 206.0 L221.5 286.4 L223.0 131.3 L224.4 135.5 L225.8 139.7 L226.7 232.8 L228.0 165.0 L229.5 306.0 L230.5 244.0 L232.1 249.0 L233.7 254.0 L235.0 362.5 L236.5 383.7 L238.3 445.7 L240.5 462.0 L241.3 448.0 L242.7 504.0 L243.6 504.7 L244.8 469.0 L246.0 531.0 L247.3 535.0 L249.9 603.0 L252.4 587.8 L254.9 517.3 L256.2 543.7 L257.7 568.2 L259.2 592.8 L261.2 538.7 L262.4 480.8 L263.7 528.6 L265.0 458.0 L266.7 451.8 L267.5 528.6 L270.0 456.8 L272.5 469.4 L273.8 493.4 L275.8 572.7 L276.8 502.2 L278.3 422.8 L280.1 321.3 L282.6 255.8 L283.9 389.3 L284.4 239.4 L286.4 223.0 L288.9 225.6 L291.4 220.5 L292.7 268.4 L295.2 384.3 L296.5 255.8 L299.0 301.0 L301.0 186.5 L302.5 204.8 L304.0 223.0 L305.3 293.6 L307.3 378.0 L308.5 346.5 L310.1 321.3 L311.6 296.1 L314.1 281.0 L315.3 359.0 L316.6 272.2 L317.9 341.4 L319.1 323.8 L321.6 376.7 L322.9 429.0 L323.7 323.8 L324.2 391.8 L326.1 391.8 L328.0 391.8 L330.0 391.7 L330.5 441.7 L332.5 417.8 L333.0 485.8 L333.8 485.8 L335.0 458.0 L335.5 366.6 L337.6 434.2 L338.8 366.5 L340.1 301.0 L342.1 207.8 L343.9 202.7 L345.6 321.1 L346.4 235.5 L347.6 275.8 L350.2 280.8 L351.4 270.8 L352.7 313.6 L353.5 351.4 L355.2 328.7 L356.4 396.7 L357.2 409.3 L359.0 361.4 L360.7 307.3 L361.5 391.3 L362.2 391.7 L364.0 358.9 L365.3 376.5 L367.8 396.7 L369.0 319.9 L370.3 371.5 L371.6 414.3 L374.1 391.7 L375.3 420.3 L377.4 355.1 L379.1 404.3 L380.4 427.9 L382.9 386.3 L383.5 429.1 L384.2 444.2 L385.4 461.9 L386.7 512.2 L389.2 463.1 L391.7 498.4 L394.2 415.3 L396.0 473.2 L397.5 575.2 L398.0 498.4 L400.5 495.9 L401.8 432.9 L403.0 440.5 L404.3 495.9 L405.6 556.3 L407.6 494.6 L410.1 500.9 L410.6 519.8 L411.9 561.4 L414.4 592.8 L415.6 541.2 L417.7 537.4 L419.4 558.8 L421.9 568.9 L423.7 524.8 L425.0 538.7 L425.2 485.8 L425.6 523.6 L427.0 465.6 L427.5 490.8 L428.2 394.2 L428.8 463.1 L429.5 395.0 L430.0 492.1 L431.3 395.1 L432.5 420.0 L433.8 448.0 L435.1 388.8 L437.6 425.3 L438.9 405.2 L440.1 444.2 L441.4 382.5 L442.6 400.2 L443.9 403.0 L445.2 487.0 L446.4 443.0 L448.9 521.0 L450.2 405.2 L451.0 409.4 L452.7 383.8 L455.2 375.4 L456.5 395.1 L457.7 426.6 L459.0 352.7 L460.3 386.3 L461.5 312.4 L462.2 331.3 L462.8 354.0 L464.0 338.8 L465.3 264.5 L466.6 230.5 L469.1 180.2 L470.3 337.6 L471.6 274.6 L474.1 255.7 L475.4 301.1 L476.6 254.5 L479.2 332.5 L480.9 296.0 L482.4 231.8 L484.2 286.0 L485.5 214.2 L488.0 215.4 L490.0 223.0 L491.0 241.9 L492.5 249.4 L494.3 301.1 L495.5 272.1 L496.8 323.7 L498.0 268.3 L499.3 330.0 L501.8 257.0 L503.1 361.5 L505.6 381.7 L506.5 387.6 L508.1 360.3 L509.4 431.6 L510.6 393.0 L511.9 395.1 L514.4 445.5 L515.2 456.8 L517.7 390.0 L519.5 420.3 L520.0 420.3 L522.0 480.8 L522.5 480.8 L523.2 434.2 L523.8 435.4 L524.5 405.2 L526.3 405.2 L528.8 468.2 L531.3 426.6 L532.6 511.0 L535.1 479.5 L536.4 521.0 L538.1 584.0 L540.2 474.5 L541.4 521.0 L543.2 483.3 L544.5 503.4 L545.2 556.3 L547.7 558.8 L550.2 546.2 L551.5 482.0 L554.0 541.2 L555.3 475.7 L556.5 440.5 L559.0 439.2 L560.3 443.0 L561.6 446.8 L564.1 474.5 L565.3 495.9 L566.6 511.0 L569.1 477.0 L570.4 556.3 L572.9 485.8 L574.2 532.4 L576.7 511.0 L579.2 524.8 L580.5 495.9 L582.4 507.2 L584.2 518.5 L586.0 471.9 L588.0 477.0 L589.3 546.2 L591.8 497.1 L593.0 489.6 L594.3 563.9 L595.6 500.9 L596.8 591.6 L599.3 609.2 L600.6 556.3 L603.1 584.0 L604.4 485.8 L606.9 498.4 L608.2 511.0 L608.7 615.5 L610.7 531.1 L613.2 516.0 L614.5 601.7 L617.0 503.4 L618.2 624.3 L619.7 627.2 L621.2 599.1 L622.8 571.0 L624.3 578.8 L625.9 586.6 L627.5 521.1 L629.0 561.7 L630.6 488.3 L632.2 502.3 L633.7 549.2 L635.3 582.0 L636.9 614.7 L638.4 505.5 L640.0 555.4 L641.5 496.1 L643.1 481.2 L644.7 466.4 L646.2 527.3 L647.8 494.5 L649.3 553.9 L650.9 452.4 L652.5 533.6 L654.0 582.0 L655.6 552.3 L657.2 552.3 L658.7 552.3 L661.2 572.6 L662.5 519.5 L663.4 433.7 L665.0 424.3 L666.5 436.8 L668.7 354.0 L670.0 439.9 L671.8 449.3 L673.7 400.9 L675.3 441.5 L677.4 422.7 L678.4 516.4 L680.6 488.3 L682.2 489.1 L683.7 489.9 L685.2 558.5 L687.4 574.2 L688.4 606.9 L690.0 587.4 L691.5 567.9 L693.7 539.8 L694.6 633.5 L696.2 589.8 L697.8 594.5 L699.3 599.1 L701.8 549.2 L704.0 611.6 L706.2 578.8 L708.7 649.1 L710.0 590.9 L711.3 661.4 L711.8 580.4 L712.5 580.8 L714.3 577.3 L715.0 658.9 L716.3 584.6 L717.6 570.8 L719.6 611.0 L721.3 643.8 L722.6 631.2 L723.9 618.6 L725.1 648.8 L726.4 593.4 L728.1 553.1 L730.2 573.3 L731.4 623.7 L733.9 621.1 L735.2 647.6 L736.4 595.9 L737.7 595.9 L739.0 595.9 L740.2 624.9 L742.7 606.0 L745.3 641.3 L747.8 603.5 L749.8 601.0 L750.8 641.3 L751.6 580.8 L754.1 580.8 L755.3 597.2 L756.6 602.9 L757.9 608.5 L760.4 580.8 L761.2 607.3 L761.8 642.3 L763.4 657.4 L764.0 688.6 L764.8 711.8 L766.1 720.3 L767.4 728.9 L768.4 676.5 L769.9 669.5 L771.4 662.4 L773.4 700.7 L774.5 684.6 L775.5 755.1 L776.5 640.3 L778.5 676.5 L779.5 743.0 L781.5 694.7 L783.5 710.8 L785.5 689.6 L787.5 668.5 L788.1 739.0 L789.6 704.7 L791.0 755.1 L792.3 726.9 L793.6 698.7 L795.6 702.7 L797.6 750.1 L799.6 737.0 L801.6 722.9 L802.6 694.7 L804.7 678.5 L806.7 688.6 L808.3 646.3 L809.0 645.5 L811.0 690.8 L813.1 720.0 L815.1 694.9 L817.1 702.9 L818.7 736.2 L819.5 679.8 L821.1 715.0 L822.7 654.6 L824.1 682.8 L825.1 719.0 L826.1 745.2 L827.2 680.8 L829.2 715.0 L831.2 723.1 L833.2 698.9 L834.2 737.2 L835.2 684.8 L836.8 734.1 L837.2 620.4 L838.7 605.2 L840.2 590.1 L841.3 640.5 L842.7 674.7 L844.3 640.5 L846.3 646.5 L848.3 681.8 L849.3 653.6 L851.3 630.4 L852.3 688.8 L854.3 600.2 L856.4 616.3 L858.4 599.2 L860.4 623.4 L862.4 630.4 L863.4 638.5 L864.4 668.7 L865.4 694.9 L867.4 672.7 L869.5 676.7 L870.5 732.1 L872.5 741.2 L874.5 709.0 L875.5 673.7 L877.0 675.2 L878.5 676.7 L880.5 698.9 L882.5 723.1 L884.6 709.0 L886.6 727.1 L888.0 731.1 L889.6 702.9 L891.6 719.0 L892.6 673.7 L893.6 711.0 L894.6 626.4 L895.0 691.7 L897.5 562.0 L898.8 661.5 L901.3 596.0 L903.8 570.8 L905.1 636.3 L906.3 601.1 L907.6 588.5 L908.9 575.9 L910.1 613.7 L911.4 550.7 L912.6 616.2 L913.9 577.2 L915.2 538.1 L916.4 601.1 L918.9 597.3 L920.2 636.3 L922.2 575.9 L924.0 530.5 L925.2 628.8 L926.5 616.2 L927.7 575.9 L929.0 553.2 L930.3 524.2 L931.5 506.6 L932.8 476.4 L934.8 482.7 L935.3 534.3 L936.6 596.0 L939.1 507.9 L941.6 525.5 L942.9 548.2 L944.5 544.4 L944.9 600.0 L945.6 610.5 L946.5 641.9 L948.1 679.0 L949.7 641.1 L951.0 727.4 L952.1 677.4 L954.5 680.6 L956.9 719.4 L958.5 656.5 L961.0 698.4 L961.3 659.7 L962.8 667.0 L964.2 674.2 L965.0 717.7 L966.6 746.0 L969.0 675.0 L971.5 712.9 L973.9 746.8 L976.3 701.6 L978.7 700.8 L980.3 729.0 L982.7 691.9 L985.1 728.9 L986.8 675.8 L988.4 741.9 L990.0 758.0 L991.6 725.8 L992.2 772.2 L993.2 728.9 L995.2 748.0 L997.2 782.3 L999.2 711.8 L1001.3 743.0 L1002.3 705.7 L1003.8 683.0 L1005.3 660.4 L1007.3 702.7 L1009.3 752.1 L1010.8 748.5 L1012.3 745.0 L1013.3 692.6 L1015.4 714.8 L1017.4 761.1 L1019.4 702.7 L1021.4 677.5 L1022.4 761.1 L1024.4 712.8 L1026.4 658.4 L1028.4 739.0 L1030.5 704.7 L1032.0 701.7 L1033.5 698.7 L1035.5 732.9 L1037.5 665.5 L1039.5 671.5 L1041.9 793.3 L1042.5 763.1 L1044.6 714.8 L1046.6 677.5 L1048.1 678.0 L1049.6 678.5 L1051.6 726.9 L1053.6 744.0 L1055.6 704.7 L1057.2 668.5 L1058.7 696.7 L1060.1 762.1 L1061.3 706.2 L1062.5 761.7 L1065.0 711.3 L1067.6 696.2 L1069.6 736.5 L1070.6 634.5 L1072.6 691.1 L1073.9 655.9 L1076.4 693.7 L1078.1 654.6 L1080.2 688.6 L1082.7 737.7 L1083.9 650.8 L1086.4 650.8 L1087.7 721.4 L1089.7 701.2 L1091.5 734.0 L1094.0 701.2 L1095.3 721.4 L1097.8 643.3 L1099.0 671.0 L1100.8 703.7 L1102.4 710.0 L1104.1 716.3 L1105.8 678.5 L1107.4 640.8 L1109.1 749.1 L1111.6 746.5 L1112.9 714.4 L1114.2 682.3 L1116.7 760.4 L1119.2 703.7 L1121.7 721.4 L1123.0 784.3 L1125.5 728.9 L1126.8 711.3 L1128.0 650.8 L1130.5 630.7 L1133.0 643.3 L1134.3 703.7 L1135.6 650.8 L1138.1 587.9 L1139.3 708.8 L1141.1 587.9 L1143.1 660.9 L1144.4 576.5 L1146.1 572.7 L1148.2 576.5 L1150.2 595.4 L1151.9 620.6 L1153.7 674.8 L1155.7 629.4 L1157.7 688.6 L1159.5 649.6 L1160.8 671.0 L1162.8 677.3 L1164.5 686.1 L1165.1 696.0 L1167.4 687.0 L1168.1 756.3 L1170.5 700.0 L1172.0 685.1 L1173.4 670.2 L1174.2 776.7" stroke="#000" stroke-width="3.6" fill="none" stroke-linejoin="round"/><path d="M106.8 304.0h0M108.7 415.0h0M110.9 265.0h0M112.7 300.0h0M114.5 304.3h0M116.3 348.7h0M117.2 406.7h0M118.6 486.6h0M120.0 556.7h0M122.0 590.0h0M124.4 618.0h0M125.9 533.0h0M127.4 502.7h0M128.8 546.5h0M130.2 521.0h0M131.7 495.4h0M133.2 548.0h0M134.7 488.0h0M135.5 618.0h0M136.1 546.5h0M137.6 560.2h0M139.0 574.0h0M140.5 612.0h0M142.5 600.0h0M144.9 572.8h0M146.3 613.6h0M147.8 599.0h0M149.3 584.4h0M150.7 647.0h0M151.6 659.0h0M153.6 562.5h0M156.0 562.5h0M156.6 618.0h0M159.0 600.0h0M161.0 558.0h0M161.8 629.7h0M163.9 529.0h0M165.3 609.0h0M166.2 520.0h0M167.7 517.0h0M168.3 457.0h0M169.6 399.0h0M171.0 354.0h0M172.0 302.0h0M174.5 296.0h0M176.2 269.4h0M177.9 242.7h0M180.1 273.7h0M181.6 376.6h0M182.5 395.0h0M183.5 440.0h0M185.8 441.0h0M187.2 472.0h0M188.7 460.3h0M190.2 448.6h0M191.0 517.0h0M192.8 526.0h0M194.5 535.0h0M196.0 409.0h0M198.5 334.0h0M199.9 339.8h0M201.3 345.6h0M203.3 391.7h0M205.0 337.0h0M206.0 368.0h0M207.9 325.8h0M209.8 283.6h0M211.2 283.6h0M212.6 283.6h0M214.0 325.2h0M215.4 366.8h0M216.8 320.2h0M218.2 273.7h0M219.6 206.0h0M221.5 286.4h0M223.0 131.3h0M224.4 135.5h0M225.8 139.7h0M226.7 232.8h0M228.0 165.0h0M229.5 306.0h0M230.5 244.0h0M232.1 249.0h0M233.7 254.0h0M235.0 362.5h0M236.5 383.7h0M238.3 445.7h0M240.5 462.0h0M241.3 448.0h0M242.7 504.0h0M243.6 504.7h0M244.8 469.0h0M246.0 531.0h0M247.3 535.0h0M249.9 603.0h0M252.4 587.8h0M254.9 517.3h0M256.2 543.7h0M257.7 568.2h0M259.2 592.8h0M261.2 538.7h0M262.4 480.8h0M263.7 528.6h0M265.0 458.0h0M266.7 451.8h0M267.5 528.6h0M270.0 456.8h0M272.5 469.4h0M273.8 493.4h0M275.8 572.7h0M276.8 502.2h0M278.3 422.8h0M280.1 321.3h0M282.6 255.8h0M283.9 389.3h0M284.4 239.4h0M286.4 223.0h0M288.9 225.6h0M291.4 220.5h0M292.7 268.4h0M295.2 384.3h0M296.5 255.8h0M299.0 301.0h0M301.0 186.5h0M302.5 204.8h0M304.0 223.0h0M305.3 293.6h0M307.3 378.0h0M308.5 346.5h0M310.1 321.3h0M311.6 296.1h0M314.1 281.0h0M315.3 359.0h0M316.6 272.2h0M317.9 341.4h0M319.1 323.8h0M321.6 376.7h0M322.9 429.0h0M323.7 323.8h0M324.2 391.8h0M326.1 391.8h0M328.0 391.8h0M330.0 391.7h0M330.5 441.7h0M332.5 417.8h0M333.0 485.8h0M333.8 485.8h0M335.0 458.0h0M335.5 366.6h0M337.6 434.2h0M338.8 366.5h0M340.1 301.0h0M342.1 207.8h0M343.9 202.7h0M345.6 321.1h0M346.4 235.5h0M347.6 275.8h0M350.2 280.8h0M351.4 270.8h0M352.7 313.6h0M353.5 351.4h0M355.2 328.7h0M356.4 396.7h0M357.2 409.3h0M359.0 361.4h0M360.7 307.3h0M361.5 391.3h0M362.2 391.7h0M364.0 358.9h0M365.3 376.5h0M367.8 396.7h0M369.0 319.9h0M370.3 371.5h0M371.6 414.3h0M374.1 391.7h0M375.3 420.3h0M377.4 355.1h0M379.1 404.3h0M380.4 427.9h0M382.9 386.3h0M383.5 429.1h0M384.2 444.2h0M385.4 461.9h0M386.7 512.2h0M389.2 463.1h0M391.7 498.4h0M394.2 415.3h0M396.0 473.2h0M397.5 575.2h0M398.0 498.4h0M400.5 495.9h0M401.8 432.9h0M403.0 440.5h0M404.3 495.9h0M405.6 556.3h0M407.6 494.6h0M410.1 500.9h0M410.6 519.8h0M411.9 561.4h0M414.4 592.8h0M415.6 541.2h0M417.7 537.4h0M419.4 558.8h0M421.9 568.9h0M423.7 524.8h0M425.0 538.7h0M425.2 485.8h0M425.6 523.6h0M427.0 465.6h0M427.5 490.8h0M428.2 394.2h0M428.8 463.1h0M429.5 395.0h0M430.0 492.1h0M431.3 395.1h0M432.5 420.0h0M433.8 448.0h0M435.1 388.8h0M437.6 425.3h0M438.9 405.2h0M440.1 444.2h0M441.4 382.5h0M442.6 400.2h0M443.9 403.0h0M445.2 487.0h0M446.4 443.0h0M448.9 521.0h0M450.2 405.2h0M451.0 409.4h0M452.7 383.8h0M455.2 375.4h0M456.5 395.1h0M457.7 426.6h0M459.0 352.7h0M460.3 386.3h0M461.5 312.4h0M462.2 331.3h0M462.8 354.0h0M464.0 338.8h0M465.3 264.5h0M466.6 230.5h0M469.1 180.2h0M470.3 337.6h0M471.6 274.6h0M474.1 255.7h0M475.4 301.1h0M476.6 254.5h0M479.2 332.5h0M480.9 296.0h0M482.4 231.8h0M484.2 286.0h0M485.5 214.2h0M488.0 215.4h0M490.0 223.0h0M491.0 241.9h0M492.5 249.4h0M494.3 301.1h0M495.5 272.1h0M496.8 323.7h0M498.0 268.3h0M499.3 330.0h0M501.8 257.0h0M503.1 361.5h0M505.6 381.7h0M506.5 387.6h0M508.1 360.3h0M509.4 431.6h0M510.6 393.0h0M511.9 395.1h0M514.4 445.5h0M515.2 456.8h0M517.7 390.0h0M519.5 420.3h0M520.0 420.3h0M522.0 480.8h0M522.5 480.8h0M523.2 434.2h0M523.8 435.4h0M524.5 405.2h0M526.3 405.2h0M528.8 468.2h0M531.3 426.6h0M532.6 511.0h0M535.1 479.5h0M536.4 521.0h0M538.1 584.0h0M540.2 474.5h0M541.4 521.0h0M543.2 483.3h0M544.5 503.4h0M545.2 556.3h0M547.7 558.8h0M550.2 546.2h0M551.5 482.0h0M554.0 541.2h0M555.3 475.7h0M556.5 440.5h0M559.0 439.2h0M560.3 443.0h0M561.6 446.8h0M564.1 474.5h0M565.3 495.9h0M566.6 511.0h0M569.1 477.0h0M570.4 556.3h0M572.9 485.8h0M574.2 532.4h0M576.7 511.0h0M579.2 524.8h0M580.5 495.9h0M582.4 507.2h0M584.2 518.5h0M586.0 471.9h0M588.0 477.0h0M589.3 546.2h0M591.8 497.1h0M593.0 489.6h0M594.3 563.9h0M595.6 500.9h0M596.8 591.6h0M599.3 609.2h0M600.6 556.3h0M603.1 584.0h0M604.4 485.8h0M606.9 498.4h0M608.2 511.0h0M608.7 615.5h0M610.7 531.1h0M613.2 516.0h0M614.5 601.7h0M617.0 503.4h0M618.2 624.3h0M619.7 627.2h0M621.2 599.1h0M622.8 571.0h0M624.3 578.8h0M625.9 586.6h0M627.5 521.1h0M629.0 561.7h0M630.6 488.3h0M632.2 502.3h0M633.7 549.2h0M635.3 582.0h0M636.9 614.7h0M638.4 505.5h0M640.0 555.4h0M641.5 496.1h0M643.1 481.2h0M644.7 466.4h0M646.2 527.3h0M647.8 494.5h0M649.3 553.9h0M650.9 452.4h0M652.5 533.6h0M654.0 582.0h0M655.6 552.3h0M657.2 552.3h0M658.7 552.3h0M661.2 572.6h0M662.5 519.5h0M663.4 433.7h0M665.0 424.3h0M666.5 436.8h0M668.7 354.0h0M670.0 439.9h0M671.8 449.3h0M673.7 400.9h0M675.3 441.5h0M677.4 422.7h0M678.4 516.4h0M680.6 488.3h0M682.2 489.1h0M683.7 489.9h0M685.2 558.5h0M687.4 574.2h0M688.4 606.9h0M690.0 587.4h0M691.5 567.9h0M693.7 539.8h0M694.6 633.5h0M696.2 589.8h0M697.8 594.5h0M699.3 599.1h0M701.8 549.2h0M704.0 611.6h0M706.2 578.8h0M708.7 649.1h0M710.0 590.9h0M711.3 661.4h0M711.8 580.4h0M712.5 580.8h0M714.3 577.3h0M715.0 658.9h0M716.3 584.6h0M717.6 570.8h0M719.6 611.0h0M721.3 643.8h0M722.6 631.2h0M723.9 618.6h0M725.1 648.8h0M726.4 593.4h0M728.1 553.1h0M730.2 573.3h0M731.4 623.7h0M733.9 621.1h0M735.2 647.6h0M736.4 595.9h0M737.7 595.9h0M739.0 595.9h0M740.2 624.9h0M742.7 606.0h0M745.3 641.3h0M747.8 603.5h0M749.8 601.0h0M750.8 641.3h0M751.6 580.8h0M754.1 580.8h0M755.3 597.2h0M756.6 602.9h0M757.9 608.5h0M760.4 580.8h0M761.2 607.3h0M761.8 642.3h0M763.4 657.4h0M764.0 688.6h0M764.8 711.8h0M766.1 720.3h0M767.4 728.9h0M768.4 676.5h0M769.9 669.5h0M771.4 662.4h0M773.4 700.7h0M774.5 684.6h0M775.5 755.1h0M776.5 640.3h0M778.5 676.5h0M779.5 743.0h0M781.5 694.7h0M783.5 710.8h0M785.5 689.6h0M787.5 668.5h0M788.1 739.0h0M789.6 704.7h0M791.0 755.1h0M792.3 726.9h0M793.6 698.7h0M795.6 702.7h0M797.6 750.1h0M799.6 737.0h0M801.6 722.9h0M802.6 694.7h0M804.7 678.5h0M806.7 688.6h0M808.3 646.3h0M809.0 645.5h0M811.0 690.8h0M813.1 720.0h0M815.1 694.9h0M817.1 702.9h0M818.7 736.2h0M819.5 679.8h0M821.1 715.0h0M822.7 654.6h0M824.1 682.8h0M825.1 719.0h0M826.1 745.2h0M827.2 680.8h0M829.2 715.0h0M831.2 723.1h0M833.2 698.9h0M834.2 737.2h0M835.2 684.8h0M836.8 734.1h0M837.2 620.4h0M838.7 605.2h0M840.2 590.1h0M841.3 640.5h0M842.7 674.7h0M844.3 640.5h0M846.3 646.5h0M848.3 681.8h0M849.3 653.6h0M851.3 630.4h0M852.3 688.8h0M854.3 600.2h0M856.4 616.3h0M858.4 599.2h0M860.4 623.4h0M862.4 630.4h0M863.4 638.5h0M864.4 668.7h0M865.4 694.9h0M867.4 672.7h0M869.5 676.7h0M870.5 732.1h0M872.5 741.2h0M874.5 709.0h0M875.5 673.7h0M877.0 675.2h0M878.5 676.7h0M880.5 698.9h0M882.5 723.1h0M884.6 709.0h0M886.6 727.1h0M888.0 731.1h0M889.6 702.9h0M891.6 719.0h0M892.6 673.7h0M893.6 711.0h0M894.6 626.4h0M895.0 691.7h0M897.5 562.0h0M898.8 661.5h0M901.3 596.0h0M903.8 570.8h0M905.1 636.3h0M906.3 601.1h0M907.6 588.5h0M908.9 575.9h0M910.1 613.7h0M911.4 550.7h0M912.6 616.2h0M913.9 577.2h0M915.2 538.1h0M916.4 601.1h0M918.9 597.3h0M920.2 636.3h0M922.2 575.9h0M924.0 530.5h0M925.2 628.8h0M926.5 616.2h0M927.7 575.9h0M929.0 553.2h0M930.3 524.2h0M931.5 506.6h0M932.8 476.4h0M934.8 482.7h0M935.3 534.3h0M936.6 596.0h0M939.1 507.9h0M941.6 525.5h0M942.9 548.2h0M944.5 544.4h0M944.9 600.0h0M945.6 610.5h0M946.5 641.9h0M948.1 679.0h0M949.7 641.1h0M951.0 727.4h0M952.1 677.4h0M954.5 680.6h0M956.9 719.4h0M958.5 656.5h0M961.0 698.4h0M961.3 659.7h0M962.8 667.0h0M964.2 674.2h0M965.0 717.7h0M966.6 746.0h0M969.0 675.0h0M971.5 712.9h0M973.9 746.8h0M976.3 701.6h0M978.7 700.8h0M980.3 729.0h0M982.7 691.9h0M985.1 728.9h0M986.8 675.8h0M988.4 741.9h0M990.0 758.0h0M991.6 725.8h0M992.2 772.2h0M993.2 728.9h0M995.2 748.0h0M997.2 782.3h0M999.2 711.8h0M1001.3 743.0h0M1002.3 705.7h0M1003.8 683.0h0M1005.3 660.4h0M1007.3 702.7h0M1009.3 752.1h0M1010.8 748.5h0M1012.3 745.0h0M1013.3 692.6h0M1015.4 714.8h0M1017.4 761.1h0M1019.4 702.7h0M1021.4 677.5h0M1022.4 761.1h0M1024.4 712.8h0M1026.4 658.4h0M1028.4 739.0h0M1030.5 704.7h0M1032.0 701.7h0M1033.5 698.7h0M1035.5 732.9h0M1037.5 665.5h0M1039.5 671.5h0M1041.9 793.3h0M1042.5 763.1h0M1044.6 714.8h0M1046.6 677.5h0M1048.1 678.0h0M1049.6 678.5h0M1051.6 726.9h0M1053.6 744.0h0M1055.6 704.7h0M1057.2 668.5h0M1058.7 696.7h0M1060.1 762.1h0M1061.3 706.2h0M1062.5 761.7h0M1065.0 711.3h0M1067.6 696.2h0M1069.6 736.5h0M1070.6 634.5h0M1072.6 691.1h0M1073.9 655.9h0M1076.4 693.7h0M1078.1 654.6h0M1080.2 688.6h0M1082.7 737.7h0M1083.9 650.8h0M1086.4 650.8h0M1087.7 721.4h0M1089.7 701.2h0M1091.5 734.0h0M1094.0 701.2h0M1095.3 721.4h0M1097.8 643.3h0M1099.0 671.0h0M1100.8 703.7h0M1102.4 710.0h0M1104.1 716.3h0M1105.8 678.5h0M1107.4 640.8h0M1109.1 749.1h0M1111.6 746.5h0M1112.9 714.4h0M1114.2 682.3h0M1116.7 760.4h0M1119.2 703.7h0M1121.7 721.4h0M1123.0 784.3h0M1125.5 728.9h0M1126.8 711.3h0M1128.0 650.8h0M1130.5 630.7h0M1133.0 643.3h0M1134.3 703.7h0M1135.6 650.8h0M1138.1 587.9h0M1139.3 708.8h0M1141.1 587.9h0M1143.1 660.9h0M1144.4 576.5h0M1146.1 572.7h0M1148.2 576.5h0M1150.2 595.4h0M1151.9 620.6h0M1153.7 674.8h0M1155.7 629.4h0M1157.7 688.6h0M1159.5 649.6h0M1160.8 671.0h0M1162.8 677.3h0M1164.5 686.1h0M1165.1 696.0h0M1167.4 687.0h0M1168.1 756.3h0M1170.5 700.0h0M1172.0 685.1h0M1173.4 670.2h0M1174.2 776.7h0" stroke="#000" stroke-width="6.8" stroke-linecap="round" fill="none"/><text x="92" y="806.7" text-anchor="end" font-size="33.2" fill="#262626" stroke="#262626" stroke-width="0.4" font-family="'Liberation Sans', sans-serif">10</text><text x="92" y="681.2" text-anchor="end" font-size="33.2" fill="#262626" stroke="#262626" stroke-width="0.4" font-family="'Liberation Sans', sans-serif">15</text><text x="92" y="555.6" text-anchor="end" font-size="33.2" fill="#262626" stroke="#262626" stroke-width="0.4" font-family="'Liberation Sans', sans-serif">20</text><text x="92" y="430.1" text-anchor="end" font-size="33.2" fill="#262626" stroke="#262626" stroke-width="0.4" font-family="'Liberation Sans', sans-serif">25</text><text x="92" y="304.6" text-anchor="end" font-size="33.2" fill="#262626" stroke="#262626" stroke-width="0.4" font-family="'Liberation Sans', sans-serif">30</text><text x="92" y="179.0" text-anchor="end" font-size="33.2" fill="#262626" stroke="#262626" stroke-width="0.4" font-family="'Liberation Sans', sans-serif">35</text><text x="92" y="53.5" text-anchor="end" font-size="33.2" fill="#262626" stroke="#262626" stroke-width="0.4" font-family="'Liberation Sans', sans-serif">40</text><text transform="translate(122.3 823.72) rotate(-45)" text-anchor="end" font-size="33.2" fill="#262626" stroke="#262626" stroke-width="0.4" font-family="'Liberation Sans', sans-serif" dy="0.35em">29/11/2021</text><text transform="translate(241.5 823.72) rotate(-45)" text-anchor="end" font-size="33.2" fill="#262626" stroke="#262626" stroke-width="0.4" font-family="'Liberation Sans', sans-serif" dy="0.35em">9/3/2022</text><text transform="translate(360.8 823.72) rotate(-45)" text-anchor="end" font-size="33.2" fill="#262626" stroke="#262626" stroke-width="0.4" font-family="'Liberation Sans', sans-serif" dy="0.35em">19/6/2022</text><text transform="translate(480.0 823.72) rotate(-45)" text-anchor="end" font-size="33.2" fill="#262626" stroke="#262626" stroke-width="0.4" font-family="'Liberation Sans', sans-serif" dy="0.35em">29/9/2022</text><text transform="translate(599.2 823.72) rotate(-45)" text-anchor="end" font-size="33.2" fill="#262626" stroke="#262626" stroke-width="0.4" font-family="'Liberation Sans', sans-serif" dy="0.35em">9/1/2023</text><text transform="translate(718.5 823.72) rotate(-45)" text-anchor="end" font-size="33.2" fill="#262626" stroke="#262626" stroke-width="0.4" font-family="'Liberation Sans', sans-serif" dy="0.35em">19/4/2023</text><text transform="translate(837.7 823.72) rotate(-45)" text-anchor="end" font-size="33.2" fill="#262626" stroke="#262626" stroke-width="0.4" font-family="'Liberation Sans', sans-serif" dy="0.35em">29/7/2023</text><text transform="translate(957.0 823.72) rotate(-45)" text-anchor="end" font-size="33.2" fill="#262626" stroke="#262626" stroke-width="0.4" font-family="'Liberation Sans', sans-serif" dy="0.35em">9/10/2023</text><text transform="translate(1076.2 823.72) rotate(-45)" text-anchor="end" font-size="33.2" fill="#262626" stroke="#262626" stroke-width="0.4" font-family="'Liberation Sans', sans-serif" dy="0.35em">19/1/2024</text><text transform="translate(1195.5 823.72) rotate(-45)" text-anchor="end" font-size="33.2" fill="#262626" stroke="#262626" stroke-width="0.4" font-family="'Liberation Sans', sans-serif" dy="0.35em">9/4/2024</text><text x="644" y="993" text-anchor="middle" font-size="36.5" fill="#262626" stroke="#262626" stroke-width="0.4" font-family="'Liberation Sans', sans-serif">Date</text><text transform="translate(36.5 418) rotate(-90)" text-anchor="middle" font-size="36.5" fill="#262626" stroke="#262626" stroke-width="0.4" font-family="'Liberation Sans', sans-serif">VIX</text><text x="644" y="25.8" text-anchor="middle" font-size="36.3" font-weight="bold" fill="#000" font-family="'Liberation Sans', sans-serif">Forecasted VIX: Case of EPU as input</text><rect x="822.4" y="67.3" width="332" height="90.6" fill="#fff" stroke="#262626" stroke-width="1.5"/><path d="M832.3 92.1H931.1" stroke="#f00" stroke-width="3"/><circle cx="881.8" cy="92.1" r="3.3" fill="#f00"/><path d="M832.3 133.5H931.1" stroke="#000" stroke-width="3"/><circle cx="881.8" cy="133.5" r="3.3" fill="#000"/><text x="938.4" y="104" font-size="29.8" fill="#000" stroke="#000" stroke-width="0.4" font-family="'Liberation Sans', sans-serif">Actual VIX</text><text x="938.4" y="145.4" font-size="29.8" fill="#000" stroke="#000" stroke-width="0.4" font-family="'Liberation Sans', sans-serif">Forecasted VIX</text></svg><svg width="1200" height="993" viewBox="0 0 1200 993" style="position:absolute;left:0;top:0"><defs><filter id="bl" x="0" y="0" width="1200" height="993" filterUnits="userSpaceOnUse" color-interpolation-filters="sRGB"><feConvolveMatrix order="3" kernelMatrix="144 912 144 912 5776 912 144 912 144" divisor="10000" edgeMode="duplicate"/></filter></defs><g filter="url(#bl)"><rect width="1200" height="993" fill="#fff"/><path d="M226.01 41.5V794.72M345.25 41.5V794.72M464.50 41.5V794.72M583.74 41.5V794.72M702.98 41.5V794.72M822.22 41.5V794.72M941.47 41.5V794.72M1060.71 41.5V794.72" stroke="rgba(38,38,38,0.15)" stroke-width="2" fill="none"/><path d="M106.77 669.18H1179.95M106.77 543.65H1179.95M106.77 418.11H1179.95M106.77 292.57H1179.95M106.77 167.04H1179.95" stroke="rgba(38,38,38,0.15)" stroke-width="2" fill="none"/><path d="M106.77 41.5H1179.95V794.72H106.77Z" stroke="#262626" stroke-width="2.1" fill="none"/><path d="M106.77 794.72v-11M106.77 41.5v11M226.01 794.72v-11M226.01 41.5v11M345.25 794.72v-11M345.25 41.5v11M464.50 794.72v-11M464.50 41.5v11M583.74 794.72v-11M583.74 41.5v11M702.98 794.72v-11M702.98 41.5v11M822.22 794.72v-11M822.22 41.5v11M941.47 794.72v-11M941.47 41.5v11M1060.71 794.72v-11M1060.71 41.5v11M1179.95 794.72v-11M1179.95 41.5v11M106.77 794.72h11M1179.95 794.72h-11M106.77 669.18h11M1179.95 669.18h-11M106.77 543.65h11M1179.95 543.65h-11M106.77 418.11h11M1179.95 418.11h-11M106.77 292.57h11M1179.95 292.57h-11M106.77 167.04h11M1179.95 167.04h-11M106.77 41.50h11M1179.95 41.50h-11" stroke="#262626" stroke-width="2.1" fill="none"/><path d="M106.2 304.0 L106.8 363.0 L108.1 415.0 L108.4 263.6 L110.3 265.0 L111.8 342.4 L112.1 300.0 L113.6 363.0 L113.9 304.3 L114.9 275.4 L115.7 348.7 L116.6 406.7 L118.0 486.6 L119.0 574.7 L119.4 556.7 L121.4 590.0 L123.8 618.0 L124.1 495.2 L125.3 533.0 L126.8 502.7 L127.1 560.6 L128.2 546.5 L129.7 521.0 L131.1 495.4 L131.1 472.0 L132.6 548.0 L133.1 594.9 L134.1 488.0 L134.9 618.0 L135.5 546.5 L137.0 560.2 L138.4 574.0 L139.9 612.0 L141.9 600.0 L142.2 619.0 L144.3 572.8 L145.7 613.6 L146.2 629.1 L147.2 599.0 L148.7 584.4 L150.1 647.0 L150.2 550.6 L151.0 659.0 L153.0 562.5 L155.4 562.5 L156.0 618.0 L157.3 558.6 L158.4 600.0 L159.3 534.5 L160.4 558.0 L161.2 629.7 L163.3 529.0 L164.7 609.0 L165.4 473.0 L165.6 520.0 L167.1 517.0 L167.4 564.7 L167.7 457.0 L168.3 321.6 L169.0 399.0 L170.4 354.0 L171.4 302.0 L173.9 296.0 L174.5 242.7 L175.6 269.4 L177.3 242.7 L177.3 351.0 L179.5 273.7 L181.0 376.6 L181.9 395.0 L182.9 440.0 L182.9 494.0 L185.2 441.0 L186.6 472.0 L188.1 460.3 L189.6 448.6 L190.4 517.0 L191.6 545.0 L192.2 526.0 L193.7 358.3 L193.9 535.0 L195.4 409.0 L197.9 334.0 L199.3 339.8 L200.4 435.5 L200.7 345.6 L202.7 391.7 L204.4 337.0 L205.4 368.0 L207.3 325.8 L208.9 266.6 L209.2 283.6 L210.6 283.6 L212.0 283.6 L213.4 325.2 L214.8 366.8 L215.4 208.8 L216.2 320.2 L217.6 273.7 L219.0 206.0 L220.9 286.4 L222.4 131.3 L223.0 129.9 L223.8 135.5 L225.2 139.7 L226.1 232.8 L227.4 165.0 L228.9 306.0 L229.9 244.0 L231.5 249.0 L232.3 248.3 L233.1 254.0 L233.2 375.0 L234.4 362.5 L235.9 383.7 L237.7 445.7 L239.8 469.4 L239.9 462.0 L240.7 448.0 L242.1 504.0 L243.0 504.7 L244.2 469.0 L245.4 531.0 L246.7 535.0 L246.8 552.5 L249.3 603.0 L251.8 587.8 L254.3 517.3 L255.6 543.7 L257.1 568.2 L258.6 592.8 L258.7 490.8 L260.6 538.7 L261.8 480.8 L263.1 528.6 L264.4 458.0 L265.7 432.9 L266.1 451.8 L266.9 528.6 L269.4 456.8 L271.9 469.4 L273.2 493.4 L275.2 572.7 L276.2 502.2 L277.7 422.8 L279.5 321.3 L282.0 255.8 L282.6 204.2 L283.3 389.3 L283.8 239.4 L285.8 223.0 L288.3 225.6 L288.9 206.7 L290.8 220.5 L292.1 268.4 L292.7 406.4 L294.6 384.3 L295.9 255.8 L298.4 301.0 L298.5 173.9 L300.4 186.5 L301.9 204.8 L302.0 321.3 L303.4 223.0 L304.7 293.6 L306.7 378.0 L307.9 346.5 L308.3 390.5 L308.5 390.0 L309.0 267.1 L309.4 321.3 L311.0 296.1 L313.5 281.0 L314.7 359.0 L316.0 272.2 L317.3 341.4 L318.5 323.8 L321.0 376.7 L322.3 429.0 L323.1 323.8 L323.6 391.8 L325.5 391.8 L327.4 391.8 L329.4 391.7 L329.9 441.7 L331.9 417.8 L332.4 485.8 L333.2 485.8 L334.2 349.0 L334.4 458.0 L334.9 366.6 L336.3 348.8 L337.0 434.2 L338.2 366.5 L339.5 301.0 L340.1 191.4 L341.5 207.8 L343.3 202.7 L345.0 321.1 L345.1 217.9 L345.8 235.5 L347.0 275.8 L348.9 264.5 L349.6 280.8 L350.8 270.8 L352.1 313.6 L352.7 361.4 L352.9 351.4 L354.6 328.7 L355.8 396.7 L356.6 409.3 L358.4 361.4 L360.1 307.3 L360.9 391.3 L361.5 323.7 L361.6 391.7 L363.4 358.9 L364.7 376.5 L365.3 353.9 L367.2 396.7 L368.4 319.9 L369.7 371.5 L370.3 426.6 L371.0 414.3 L373.5 391.7 L374.7 420.3 L376.8 355.1 L378.5 404.3 L379.1 436.7 L379.8 427.9 L382.3 386.3 L382.9 429.1 L383.6 444.2 L384.8 461.9 L386.1 512.2 L388.6 463.1 L390.5 425.3 L391.1 498.4 L393.6 415.3 L395.4 473.2 L396.8 509.7 L396.9 575.2 L397.4 498.4 L399.3 444.2 L399.9 495.9 L401.2 432.9 L402.4 440.5 L403.0 513.5 L403.7 495.9 L405.0 556.3 L407.0 494.6 L409.5 500.9 L410.0 519.8 L411.3 561.4 L413.8 592.8 L415.0 541.2 L417.1 537.4 L418.8 558.8 L419.4 528.6 L421.3 568.9 L423.1 524.8 L424.4 538.7 L424.6 485.8 L425.0 523.6 L426.3 440.5 L426.4 465.6 L426.9 490.8 L427.0 403.9 L427.5 498.4 L427.6 394.2 L428.2 463.1 L428.9 395.0 L429.4 492.1 L429.5 386.6 L430.7 395.1 L431.3 388.0 L431.9 420.0 L433.2 448.0 L434.5 388.8 L437.0 425.3 L438.3 405.2 L439.5 444.2 L440.8 382.5 L441.4 369.1 L442.0 400.2 L443.3 403.0 L444.6 487.0 L445.8 443.0 L448.3 521.0 L449.6 405.2 L450.2 361.5 L450.4 409.4 L452.1 383.8 L454.6 375.4 L455.9 395.1 L457.1 426.6 L457.7 342.6 L458.4 352.7 L459.7 386.3 L460.9 312.4 L461.5 294.8 L461.6 331.3 L462.2 354.0 L463.4 338.8 L464.7 264.5 L465.3 226.8 L466.0 230.5 L468.5 180.2 L469.7 337.6 L471.0 274.6 L473.5 255.7 L474.8 301.1 L475.4 328.8 L476.0 254.5 L478.6 332.5 L480.3 296.0 L481.8 231.8 L482.9 201.6 L483.6 286.0 L484.9 214.2 L487.4 215.4 L489.4 223.0 L490.4 241.9 L490.5 279.6 L491.9 249.4 L493.7 301.1 L494.9 272.1 L496.2 323.7 L497.4 268.3 L498.7 330.0 L501.2 257.0 L501.8 360.3 L502.5 361.5 L503.1 398.9 L504.3 398.0 L505.0 381.7 L505.9 387.6 L507.5 360.3 L508.8 431.6 L510.0 393.0 L511.3 395.1 L513.8 445.5 L514.6 456.8 L517.1 390.0 L518.9 420.3 L519.4 420.3 L519.5 480.8 L521.4 480.8 L521.9 480.8 L522.6 434.2 L523.2 435.4 L523.9 405.2 L525.7 405.2 L528.2 468.2 L530.7 426.6 L532.0 511.0 L533.9 533.7 L534.5 479.5 L535.8 521.0 L537.5 584.0 L539.6 474.5 L540.8 521.0 L542.6 483.3 L543.9 503.4 L544.6 556.3 L546.4 566.4 L547.1 558.8 L549.6 546.2 L550.9 482.0 L553.4 541.2 L554.7 475.7 L555.9 440.5 L557.8 417.8 L558.4 439.2 L559.0 514.8 L559.7 443.0 L561.0 446.8 L563.5 474.5 L564.7 495.9 L566.0 511.0 L566.6 541.2 L568.5 477.0 L569.8 556.3 L572.3 485.8 L573.6 532.4 L576.1 511.0 L577.9 490.8 L578.6 524.8 L579.9 495.9 L581.8 507.2 L583.0 470.7 L583.6 518.5 L585.4 471.9 L587.4 477.0 L588.7 546.2 L591.2 497.1 L592.4 489.6 L593.7 563.9 L594.3 584.0 L595.0 500.9 L596.2 591.6 L598.7 609.2 L600.0 556.3 L601.9 531.1 L602.5 584.0 L603.8 485.8 L606.3 498.4 L607.6 511.0 L608.1 615.5 L610.1 531.1 L612.6 516.0 L613.9 601.7 L616.4 503.4 L617.6 624.3 L619.1 627.2 L620.6 599.1 L622.2 571.0 L623.7 578.8 L625.3 586.6 L626.9 521.1 L628.4 561.7 L630.0 488.3 L631.6 502.3 L633.1 549.2 L633.7 586.6 L634.7 582.0 L636.3 614.7 L637.8 505.5 L639.4 555.4 L640.9 496.1 L641.5 471.1 L642.5 481.2 L644.1 466.4 L645.6 527.3 L647.2 494.5 L648.7 553.9 L650.3 452.4 L651.9 533.6 L653.4 582.0 L655.0 552.3 L655.6 580.4 L656.6 552.3 L658.1 552.3 L660.6 572.6 L661.2 422.7 L661.9 519.5 L662.8 433.7 L664.4 424.3 L665.0 379.0 L665.9 436.8 L668.1 354.0 L669.4 439.9 L669.6 468.0 L670.6 390.0 L671.2 449.3 L673.1 400.9 L674.3 508.6 L674.7 441.5 L676.8 422.7 L677.8 516.4 L679.0 477.4 L680.0 488.3 L681.6 489.1 L682.1 527.3 L683.1 489.9 L684.6 558.5 L686.8 574.2 L687.8 606.9 L689.4 587.4 L690.9 567.9 L693.1 539.8 L694.0 633.5 L695.6 589.8 L697.1 594.5 L698.7 599.1 L699.3 564.8 L701.2 549.2 L703.4 611.6 L704.0 614.7 L705.6 578.8 L708.1 649.1 L709.4 590.9 L710.7 661.4 L711.2 580.4 L711.9 580.8 L713.7 577.3 L714.4 658.9 L715.7 584.6 L717.0 570.8 L719.0 611.0 L720.1 648.8 L720.7 643.8 L722.0 631.2 L723.3 618.6 L724.5 648.8 L725.8 593.4 L727.5 553.1 L727.6 541.8 L729.6 573.3 L730.8 623.7 L733.3 621.1 L734.6 647.6 L735.8 595.9 L737.1 595.9 L738.4 595.9 L739.6 624.9 L742.1 606.0 L742.7 593.4 L744.7 641.3 L747.2 603.5 L749.2 601.0 L750.2 641.3 L751.0 580.8 L751.6 543.0 L753.5 580.8 L754.1 565.7 L754.7 597.2 L756.0 602.9 L757.3 608.5 L759.8 580.8 L760.4 678.5 L760.4 652.4 L760.6 607.3 L761.2 642.3 L762.8 657.4 L763.4 688.6 L764.2 711.8 L765.5 720.3 L766.8 728.9 L767.8 676.5 L769.3 669.5 L770.8 662.4 L772.8 700.7 L773.9 684.6 L774.9 755.1 L775.9 640.3 L777.9 676.5 L778.9 743.0 L779.5 681.6 L780.9 694.7 L782.9 710.8 L784.5 720.8 L784.9 689.6 L786.9 668.5 L787.5 739.0 L789.0 704.7 L790.4 755.1 L791.6 687.6 L791.7 726.9 L793.0 698.7 L795.0 702.7 L797.0 750.1 L799.0 737.0 L801.0 722.9 L802.0 694.7 L802.6 658.4 L804.1 678.5 L805.0 656.6 L806.1 688.6 L807.7 646.3 L808.4 645.5 L810.0 705.0 L810.4 690.8 L812.5 720.0 L814.5 694.9 L816.5 702.9 L818.1 736.2 L818.9 679.8 L820.5 715.0 L822.1 654.6 L823.5 682.8 L824.5 719.0 L825.5 745.2 L826.6 680.8 L828.6 715.0 L830.6 723.1 L832.6 698.9 L833.6 737.2 L834.2 641.5 L834.6 684.8 L836.2 734.1 L836.6 620.4 L837.2 615.3 L838.1 605.2 L839.6 590.1 L840.7 640.5 L842.1 674.7 L843.7 640.5 L845.7 646.5 L847.7 681.8 L848.7 653.6 L849.3 623.4 L850.7 630.4 L851.7 688.8 L853.3 596.2 L853.7 600.2 L855.8 616.3 L857.8 599.2 L859.4 644.5 L859.8 623.4 L861.8 630.4 L862.4 652.6 L862.8 638.5 L863.8 668.7 L864.8 694.9 L866.8 672.7 L867.4 654.6 L868.9 676.7 L869.9 732.1 L871.9 741.2 L873.9 709.0 L874.9 673.7 L875.5 717.0 L876.4 675.2 L877.9 676.7 L879.9 698.9 L881.9 723.1 L884.0 709.0 L884.6 688.8 L886.0 727.1 L887.4 731.1 L889.0 702.9 L891.0 719.0 L891.6 664.7 L892.0 673.7 L893.0 711.0 L893.6 604.2 L894.0 626.4 L894.4 691.7 L896.9 562.0 L898.2 661.5 L900.0 569.6 L900.7 596.0 L903.2 570.8 L904.5 636.3 L905.7 601.1 L907.0 588.5 L908.3 575.9 L908.9 548.2 L909.5 613.7 L910.8 550.7 L912.0 616.2 L913.3 577.2 L914.6 538.1 L915.8 601.1 L918.3 597.3 L918.9 641.4 L919.6 636.3 L920.2 560.8 L921.6 575.9 L923.4 530.5 L924.6 628.8 L925.9 616.2 L927.1 575.9 L927.7 500.3 L928.4 553.2 L929.7 524.2 L930.9 506.6 L932.2 476.4 L932.8 568.3 L934.2 482.7 L934.7 534.3 L936.0 596.0 L938.5 507.9 L941.0 525.5 L941.6 511.6 L942.3 548.2 L942.9 591.0 L943.9 544.4 L944.1 652.7 L944.3 600.0 L945.0 610.5 L945.9 641.9 L947.5 679.0 L949.1 641.1 L950.4 727.4 L951.5 677.4 L953.7 661.3 L953.9 680.6 L956.3 719.4 L957.9 656.5 L960.4 698.4 L960.7 659.7 L961.8 695.2 L962.1 667.0 L963.6 674.2 L964.4 717.7 L966.0 746.0 L968.4 675.0 L969.0 718.8 L969.8 733.9 L970.9 712.9 L973.3 746.8 L975.7 701.6 L978.1 700.8 L979.7 729.0 L982.1 691.9 L984.5 728.9 L986.2 675.8 L987.8 741.9 L989.4 758.0 L991.0 725.8 L991.6 772.2 L992.6 728.9 L993.2 730.9 L994.6 748.0 L996.6 782.3 L998.6 711.8 L1000.7 743.0 L1001.3 701.7 L1001.7 705.7 L1003.2 683.0 L1004.7 660.4 L1006.7 702.7 L1008.7 752.1 L1010.2 748.5 L1011.7 745.0 L1012.7 692.6 L1014.8 714.8 L1016.8 761.1 L1018.4 689.6 L1018.8 702.7 L1020.8 677.5 L1021.8 761.1 L1023.8 712.8 L1025.8 658.4 L1027.8 739.0 L1029.9 704.7 L1031.4 701.7 L1032.9 698.7 L1034.5 673.5 L1034.9 732.9 L1036.9 665.5 L1038.9 671.5 L1041.3 793.3 L1041.9 763.1 L1044.0 714.8 L1044.6 712.8 L1046.0 677.5 L1047.5 678.0 L1049.0 678.5 L1051.0 726.9 L1053.0 744.0 L1053.6 682.6 L1055.0 704.7 L1056.6 668.5 L1058.1 696.7 L1059.5 762.1 L1060.7 706.2 L1061.9 761.7 L1064.4 711.3 L1067.0 696.2 L1067.6 647.0 L1069.0 736.5 L1070.0 634.5 L1072.0 691.1 L1073.3 655.9 L1075.8 693.7 L1077.5 654.6 L1079.6 688.6 L1082.1 737.7 L1083.3 650.8 L1085.8 650.8 L1087.1 721.4 L1089.1 701.2 L1090.9 734.0 L1092.7 682.3 L1093.4 701.2 L1094.7 721.4 L1097.2 643.3 L1098.4 671.0 L1100.2 703.7 L1101.6 663.4 L1101.8 710.0 L1103.5 716.3 L1105.2 678.5 L1106.8 640.8 L1108.5 749.1 L1111.0 746.5 L1112.3 714.4 L1113.6 682.3 L1116.1 760.4 L1118.6 703.7 L1121.1 721.4 L1122.4 784.3 L1124.9 728.9 L1126.2 711.3 L1127.4 650.8 L1128.0 634.5 L1129.9 630.7 L1132.4 643.3 L1133.7 703.7 L1135.0 650.8 L1137.5 587.9 L1138.7 708.8 L1140.5 587.9 L1141.9 562.7 L1142.5 660.9 L1143.8 576.5 L1145.5 572.7 L1147.6 576.5 L1149.6 595.4 L1150.7 652.1 L1151.3 620.6 L1153.1 674.8 L1155.1 629.4 L1157.1 688.6 L1158.9 649.6 L1160.2 671.0 L1162.2 677.3 L1163.3 706.2 L1163.9 686.1 L1164.5 696.0 L1166.8 687.0 L1167.5 756.3 L1169.9 700.0 L1171.4 685.1 L1172.8 670.2 L1173.6 776.7 L1174.6 730.6" stroke="#ff0000" stroke-width="3.6" fill="none" stroke-linejoin="round"/><path d="M106.2 304.0h0M106.8 363.0h0M108.1 415.0h0M108.4 263.6h0M110.3 265.0h0M111.8 342.4h0M112.1 300.0h0M113.6 363.0h0M113.9 304.3h0M114.9 275.4h0M115.7 348.7h0M116.6 406.7h0M118.0 486.6h0M119.0 574.7h0M119.4 556.7h0M121.4 590.0h0M123.8 618.0h0M124.1 495.2h0M125.3 533.0h0M126.8 502.7h0M127.1 560.6h0M128.2 546.5h0M129.7 521.0h0M131.1 495.4h0M131.1 472.0h0M132.6 548.0h0M133.1 594.9h0M134.1 488.0h0M134.9 618.0h0M135.5 546.5h0M137.0 560.2h0M138.4 574.0h0M139.9 612.0h0M141.9 600.0h0M142.2 619.0h0M144.3 572.8h0M145.7 613.6h0M146.2 629.1h0M147.2 599.0h0M148.7 584.4h0M150.1 647.0h0M150.2 550.6h0M151.0 659.0h0M153.0 562.5h0M155.4 562.5h0M156.0 618.0h0M157.3 558.6h0M158.4 600.0h0M159.3 534.5h0M160.4 558.0h0M161.2 629.7h0M163.3 529.0h0M164.7 609.0h0M165.4 473.0h0M165.6 520.0h0M167.1 517.0h0M167.4 564.7h0M167.7 457.0h0M168.3 321.6h0M169.0 399.0h0M170.4 354.0h0M171.4 302.0h0M173.9 296.0h0M174.5 242.7h0M175.6 269.4h0M177.3 242.7h0M177.3 351.0h0M179.5 273.7h0M181.0 376.6h0M181.9 395.0h0M182.9 440.0h0M182.9 494.0h0M185.2 441.0h0M186.6 472.0h0M188.1 460.3h0M189.6 448.6h0M190.4 517.0h0M191.6 545.0h0M192.2 526.0h0M193.7 358.3h0M193.9 535.0h0M195.4 409.0h0M197.9 334.0h0M199.3 339.8h0M200.4 435.5h0M200.7 345.6h0M202.7 391.7h0M204.4 337.0h0M205.4 368.0h0M207.3 325.8h0M208.9 266.6h0M209.2 283.6h0M210.6 283.6h0M212.0 283.6h0M213.4 325.2h0M214.8 366.8h0M215.4 208.8h0M216.2 320.2h0M217.6 273.7h0M219.0 206.0h0M220.9 286.4h0M222.4 131.3h0M223.0 129.9h0M223.8 135.5h0M225.2 139.7h0M226.1 232.8h0M227.4 165.0h0M228.9 306.0h0M229.9 244.0h0M231.5 249.0h0M232.3 248.3h0M233.1 254.0h0M233.2 375.0h0M234.4 362.5h0M235.9 383.7h0M237.7 445.7h0M239.8 469.4h0M239.9 462.0h0M240.7 448.0h0M242.1 504.0h0M243.0 504.7h0M244.2 469.0h0M245.4 531.0h0M246.7 535.0h0M246.8 552.5h0M249.3 603.0h0M251.8 587.8h0M254.3 517.3h0M255.6 543.7h0M257.1 568.2h0M258.6 592.8h0M258.7 490.8h0M260.6 538.7h0M261.8 480.8h0M263.1 528.6h0M264.4 458.0h0M265.7 432.9h0M266.1 451.8h0M266.9 528.6h0M269.4 456.8h0M271.9 469.4h0M273.2 493.4h0M275.2 572.7h0M276.2 502.2h0M277.7 422.8h0M279.5 321.3h0M282.0 255.8h0M282.6 204.2h0M283.3 389.3h0M283.8 239.4h0M285.8 223.0h0M288.3 225.6h0M288.9 206.7h0M290.8 220.5h0M292.1 268.4h0M292.7 406.4h0M294.6 384.3h0M295.9 255.8h0M298.4 301.0h0M298.5 173.9h0M300.4 186.5h0M301.9 204.8h0M302.0 321.3h0M303.4 223.0h0M304.7 293.6h0M306.7 378.0h0M307.9 346.5h0M308.3 390.5h0M308.5 390.0h0M309.0 267.1h0M309.4 321.3h0M311.0 296.1h0M313.5 281.0h0M314.7 359.0h0M316.0 272.2h0M317.3 341.4h0M318.5 323.8h0M321.0 376.7h0M322.3 429.0h0M323.1 323.8h0M323.6 391.8h0M325.5 391.8h0M327.4 391.8h0M329.4 391.7h0M329.9 441.7h0M331.9 417.8h0M332.4 485.8h0M333.2 485.8h0M334.2 349.0h0M334.4 458.0h0M334.9 366.6h0M336.3 348.8h0M337.0 434.2h0M338.2 366.5h0M339.5 301.0h0M340.1 191.4h0M341.5 207.8h0M343.3 202.7h0M345.0 321.1h0M345.1 217.9h0M345.8 235.5h0M347.0 275.8h0M348.9 264.5h0M349.6 280.8h0M350.8 270.8h0M352.1 313.6h0M352.7 361.4h0M352.9 351.4h0M354.6 328.7h0M355.8 396.7h0M356.6 409.3h0M358.4 361.4h0M360.1 307.3h0M360.9 391.3h0M361.5 323.7h0M361.6 391.7h0M363.4 358.9h0M364.7 376.5h0M365.3 353.9h0M367.2 396.7h0M368.4 319.9h0M369.7 371.5h0M370.3 426.6h0M371.0 414.3h0M373.5 391.7h0M374.7 420.3h0M376.8 355.1h0M378.5 404.3h0M379.1 436.7h0M379.8 427.9h0M382.3 386.3h0M382.9 429.1h0M383.6 444.2h0M384.8 461.9h0M386.1 512.2h0M388.6 463.1h0M390.5 425.3h0M391.1 498.4h0M393.6 415.3h0M395.4 473.2h0M396.8 509.7h0M396.9 575.2h0M397.4 498.4h0M399.3 444.2h0M399.9 495.9h0M401.2 432.9h0M402.4 440.5h0M403.0 513.5h0M403.7 495.9h0M405.0 556.3h0M407.0 494.6h0M409.5 500.9h0M410.0 519.8h0M411.3 561.4h0M413.8 592.8h0M415.0 541.2h0M417.1 537.4h0M418.8 558.8h0M419.4 528.6h0M421.3 568.9h0M423.1 524.8h0M424.4 538.7h0M424.6 485.8h0M425.0 523.6h0M426.3 440.5h0M426.4 465.6h0M426.9 490.8h0M427.0 403.9h0M427.5 498.4h0M427.6 394.2h0M428.2 463.1h0M428.9 395.0h0M429.4 492.1h0M429.5 386.6h0M430.7 395.1h0M431.3 388.0h0M431.9 420.0h0M433.2 448.0h0M434.5 388.8h0M437.0 425.3h0M438.3 405.2h0M439.5 444.2h0M440.8 382.5h0M441.4 369.1h0M442.0 400.2h0M443.3 403.0h0M444.6 487.0h0M445.8 443.0h0M448.3 521.0h0M449.6 405.2h0M450.2 361.5h0M450.4 409.4h0M452.1 383.8h0M454.6 375.4h0M455.9 395.1h0M457.1 426.6h0M457.7 342.6h0M458.4 352.7h0M459.7 386.3h0M460.9 312.4h0M461.5 294.8h0M461.6 331.3h0M462.2 354.0h0M463.4 338.8h0M464.7 264.5h0M465.3 226.8h0M466.0 230.5h0M468.5 180.2h0M469.7 337.6h0M471.0 274.6h0M473.5 255.7h0M474.8 301.1h0M475.4 328.8h0M476.0 254.5h0M478.6 332.5h0M480.3 296.0h0M481.8 231.8h0M482.9 201.6h0M483.6 286.0h0M484.9 214.2h0M487.4 215.4h0M489.4 223.0h0M490.4 241.9h0M490.5 279.6h0M491.9 249.4h0M493.7 301.1h0M494.9 272.1h0M496.2 323.7h0M497.4 268.3h0M498.7 330.0h0M501.2 257.0h0M501.8 360.3h0M502.5 361.5h0M503.1 398.9h0M504.3 398.0h0M505.0 381.7h0M505.9 387.6h0M507.5 360.3h0M508.8 431.6h0M510.0 393.0h0M511.3 395.1h0M513.8 445.5h0M514.6 456.8h0M517.1 390.0h0M518.9 420.3h0M519.4 420.3h0M519.5 480.8h0M521.4 480.8h0M521.9 480.8h0M522.6 434.2h0M523.2 435.4h0M523.9 405.2h0M525.7 405.2h0M528.2 468.2h0M530.7 426.6h0M532.0 511.0h0M533.9 533.7h0M534.5 479.5h0M535.8 521.0h0M537.5 584.0h0M539.6 474.5h0M540.8 521.0h0M542.6 483.3h0M543.9 503.4h0M544.6 556.3h0M546.4 566.4h0M547.1 558.8h0M549.6 546.2h0M550.9 482.0h0M553.4 541.2h0M554.7 475.7h0M555.9 440.5h0M557.8 417.8h0M558.4 439.2h0M559.0 514.8h0M559.7 443.0h0M561.0 446.8h0M563.5 474.5h0M564.7 495.9h0M566.0 511.0h0M566.6 541.2h0M568.5 477.0h0M569.8 556.3h0M572.3 485.8h0M573.6 532.4h0M576.1 511.0h0M577.9 490.8h0M578.6 524.8h0M579.9 495.9h0M581.8 507.2h0M583.0 470.7h0M583.6 518.5h0M585.4 471.9h0M587.4 477.0h0M588.7 546.2h0M591.2 497.1h0M592.4 489.6h0M593.7 563.9h0M594.3 584.0h0M595.0 500.9h0M596.2 591.6h0M598.7 609.2h0M600.0 556.3h0M601.9 531.1h0M602.5 584.0h0M603.8 485.8h0M606.3 498.4h0M607.6 511.0h0M608.1 615.5h0M610.1 531.1h0M612.6 516.0h0M613.9 601.7h0M616.4 503.4h0M617.6 624.3h0M619.1 627.2h0M620.6 599.1h0M622.2 571.0h0M623.7 578.8h0M625.3 586.6h0M626.9 521.1h0M628.4 561.7h0M630.0 488.3h0M631.6 502.3h0M633.1 549.2h0M633.7 586.6h0M634.7 582.0h0M636.3 614.7h0M637.8 505.5h0M639.4 555.4h0M640.9 496.1h0M641.5 471.1h0M642.5 481.2h0M644.1 466.4h0M645.6 527.3h0M647.2 494.5h0M648.7 553.9h0M650.3 452.4h0M651.9 533.6h0M653.4 582.0h0M655.0 552.3h0M655.6 580.4h0M656.6 552.3h0M658.1 552.3h0M660.6 572.6h0M661.2 422.7h0M661.9 519.5h0M662.8 433.7h0M664.4 424.3h0M665.0 379.0h0M665.9 436.8h0M668.1 354.0h0M669.4 439.9h0M669.6 468.0h0M670.6 390.0h0M671.2 449.3h0M673.1 400.9h0M674.3 508.6h0M674.7 441.5h0M676.8 422.7h0M677.8 516.4h0M679.0 477.4h0M680.0 488.3h0M681.6 489.1h0M682.1 527.3h0M683.1 489.9h0M684.6 558.5h0M686.8 574.2h0M687.8 606.9h0M689.4 587.4h0M690.9 567.9h0M693.1 539.8h0M694.0 633.5h0M695.6 589.8h0M697.1 594.5h0M698.7 599.1h0M699.3 564.8h0M701.2 549.2h0M703.4 611.6h0M704.0 614.7h0M705.6 578.8h0M708.1 649.1h0M709.4 590.9h0M710.7 661.4h0M711.2 580.4h0M711.9 580.8h0M713.7 577.3h0M714.4 658.9h0M715.7 584.6h0M717.0 570.8h0M719.0 611.0h0M720.1 648.8h0M720.7 643.8h0M722.0 631.2h0M723.3 618.6h0M724.5 648.8h0M725.8 593.4h0M727.5 553.1h0M727.6 541.8h0M729.6 573.3h0M730.8 623.7h0M733.3 621.1h0M734.6 647.6h0M735.8 595.9h0M737.1 595.9h0M738.4 595.9h0M739.6 624.9h0M742.1 606.0h0M742.7 593.4h0M744.7 641.3h0M747.2 603.5h0M749.2 601.0h0M750.2 641.3h0M751.0 580.8h0M751.6 543.0h0M753.5 580.8h0M754.1 565.7h0M754.7 597.2h0M756.0 602.9h0M757.3 608.5h0M759.8 580.8h0M760.4 678.5h0M760.4 652.4h0M760.6 607.3h0M761.2 642.3h0M762.8 657.4h0M763.4 688.6h0M764.2 711.8h0M765.5 720.3h0M766.8 728.9h0M767.8 676.5h0M769.3 669.5h0M770.8 662.4h0M772.8 700.7h0M773.9 684.6h0M774.9 755.1h0M775.9 640.3h0M777.9 676.5h0M778.9 743.0h0M779.5 681.6h0M780.9 694.7h0M782.9 710.8h0M784.5 720.8h0M784.9 689.6h0M786.9 668.5h0M787.5 739.0h0M789.0 704.7h0M790.4 755.1h0M791.6 687.6h0M791.7 726.9h0M793.0 698.7h0M795.0 702.7h0M797.0 750.1h0M799.0 737.0h0M801.0 722.9h0M802.0 694.7h0M802.6 658.4h0M804.1 678.5h0M805.0 656.6h0M806.1 688.6h0M807.7 646.3h0M808.4 645.5h0M810.0 705.0h0M810.4 690.8h0M812.5 720.0h0M814.5 694.9h0M816.5 702.9h0M818.1 736.2h0M818.9 679.8h0M820.5 715.0h0M822.1 654.6h0M823.5 682.8h0M824.5 719.0h0M825.5 745.2h0M826.6 680.8h0M828.6 715.0h0M830.6 723.1h0M832.6 698.9h0M833.6 737.2h0M834.2 641.5h0M834.6 684.8h0M836.2 734.1h0M836.6 620.4h0M837.2 615.3h0M838.1 605.2h0M839.6 590.1h0M840.7 640.5h0M842.1 674.7h0M843.7 640.5h0M845.7 646.5h0M847.7 681.8h0M848.7 653.6h0M849.3 623.4h0M850.7 630.4h0M851.7 688.8h0M853.3 596.2h0M853.7 600.2h0M855.8 616.3h0M857.8 599.2h0M859.4 644.5h0M859.8 623.4h0M861.8 630.4h0M862.4 652.6h0M862.8 638.5h0M863.8 668.7h0M864.8 694.9h0M866.8 672.7h0M867.4 654.6h0M868.9 676.7h0M869.9 732.1h0M871.9 741.2h0M873.9 709.0h0M874.9 673.7h0M875.5 717.0h0M876.4 675.2h0M877.9 676.7h0M879.9 698.9h0M881.9 723.1h0M884.0 709.0h0M884.6 688.8h0M886.0 727.1h0M887.4 731.1h0M889.0 702.9h0M891.0 719.0h0M891.6 664.7h0M892.0 673.7h0M893.0 711.0h0M893.6 604.2h0M894.0 626.4h0M894.4 691.7h0M896.9 562.0h0M898.2 661.5h0M900.0 569.6h0M900.7 596.0h0M903.2 570.8h0M904.5 636.3h0M905.7 601.1h0M907.0 588.5h0M908.3 575.9h0M908.9 548.2h0M909.5 613.7h0M910.8 550.7h0M912.0 616.2h0M913.3 577.2h0M914.6 538.1h0M915.8 601.1h0M918.3 597.3h0M918.9 641.4h0M919.6 636.3h0M920.2 560.8h0M921.6 575.9h0M923.4 530.5h0M924.6 628.8h0M925.9 616.2h0M927.1 575.9h0M927.7 500.3h0M928.4 553.2h0M929.7 524.2h0M930.9 506.6h0M932.2 476.4h0M932.8 568.3h0M934.2 482.7h0M934.7 534.3h0M936.0 596.0h0M938.5 507.9h0M941.0 525.5h0M941.6 511.6h0M942.3 548.2h0M942.9 591.0h0M943.9 544.4h0M944.1 652.7h0M944.3 600.0h0M945.0 610.5h0M945.9 641.9h0M947.5 679.0h0M949.1 641.1h0M950.4 727.4h0M951.5 677.4h0M953.7 661.3h0M953.9 680.6h0M956.3 719.4h0M957.9 656.5h0M960.4 698.4h0M960.7 659.7h0M961.8 695.2h0M962.1 667.0h0M963.6 674.2h0M964.4 717.7h0M966.0 746.0h0M968.4 675.0h0M969.0 718.8h0M969.8 733.9h0M970.9 712.9h0M973.3 746.8h0M975.7 701.6h0M978.1 700.8h0M979.7 729.0h0M982.1 691.9h0M984.5 728.9h0M986.2 675.8h0M987.8 741.9h0M989.4 758.0h0M991.0 725.8h0M991.6 772.2h0M992.6 728.9h0M993.2 730.9h0M994.6 748.0h0M996.6 782.3h0M998.6 711.8h0M1000.7 743.0h0M1001.3 701.7h0M1001.7 705.7h0M1003.2 683.0h0M1004.7 660.4h0M1006.7 702.7h0M1008.7 752.1h0M1010.2 748.5h0M1011.7 745.0h0M1012.7 692.6h0M1014.8 714.8h0M1016.8 761.1h0M1018.4 689.6h0M1018.8 702.7h0M1020.8 677.5h0M1021.8 761.1h0M1023.8 712.8h0M1025.8 658.4h0M1027.8 739.0h0M1029.9 704.7h0M1031.4 701.7h0M1032.9 698.7h0M1034.5 673.5h0M1034.9 732.9h0M1036.9 665.5h0M1038.9 671.5h0M1041.3 793.3h0M1041.9 763.1h0M1044.0 714.8h0M1044.6 712.8h0M1046.0 677.5h0M1047.5 678.0h0M1049.0 678.5h0M1051.0 726.9h0M1053.0 744.0h0M1053.6 682.6h0M1055.0 704.7h0M1056.6 668.5h0M1058.1 696.7h0M1059.5 762.1h0M1060.7 706.2h0M1061.9 761.7h0M1064.4 711.3h0M1067.0 696.2h0M1067.6 647.0h0M1069.0 736.5h0M1070.0 634.5h0M1072.0 691.1h0M1073.3 655.9h0M1075.8 693.7h0M1077.5 654.6h0M1079.6 688.6h0M1082.1 737.7h0M1083.3 650.8h0M1085.8 650.8h0M1087.1 721.4h0M1089.1 701.2h0M1090.9 734.0h0M1092.7 682.3h0M1093.4 701.2h0M1094.7 721.4h0M1097.2 643.3h0M1098.4 671.0h0M1100.2 703.7h0M1101.6 663.4h0M1101.8 710.0h0M1103.5 716.3h0M1105.2 678.5h0M1106.8 640.8h0M1108.5 749.1h0M1111.0 746.5h0M1112.3 714.4h0M1113.6 682.3h0M1116.1 760.4h0M1118.6 703.7h0M1121.1 721.4h0M1122.4 784.3h0M1124.9 728.9h0M1126.2 711.3h0M1127.4 650.8h0M1128.0 634.5h0M1129.9 630.7h0M1132.4 643.3h0M1133.7 703.7h0M1135.0 650.8h0M1137.5 587.9h0M1138.7 708.8h0M1140.5 587.9h0M1141.9 562.7h0M1142.5 660.9h0M1143.8 576.5h0M1145.5 572.7h0M1147.6 576.5h0M1149.6 595.4h0M1150.7 652.1h0M1151.3 620.6h0M1153.1 674.8h0M1155.1 629.4h0M1157.1 688.6h0M1158.9 649.6h0M1160.2 671.0h0M1162.2 677.3h0M1163.3 706.2h0M1163.9 686.1h0M1164.5 696.0h0M1166.8 687.0h0M1167.5 756.3h0M1169.9 700.0h0M1171.4 685.1h0M1172.8 670.2h0M1173.6 776.7h0M1174.6 730.6h0" stroke="#ff0000" stroke-width="6.8" stroke-linecap="round" fill="none"/><path d="M106.8 304.0 L108.7 415.0 L110.9 265.0 L112.7 300.0 L114.5 304.3 L116.3 348.7 L117.2 406.7 L118.6 486.6 L120.0 556.7 L122.0 590.0 L124.4 618.0 L125.9 533.0 L127.4 502.7 L128.8 546.5 L130.2 521.0 L131.7 495.4 L133.2 548.0 L134.7 488.0 L135.5 618.0 L136.1 546.5 L137.6 560.2 L139.0 574.0 L140.5 612.0 L142.5 600.0 L144.9 572.8 L146.3 613.6 L147.8 599.0 L149.3 584.4 L150.7 647.0 L151.6 659.0 L153.6 562.5 L156.0 562.5 L156.6 618.0 L159.0 600.0 L161.0 558.0 L161.8 629.7 L163.9 529.0 L165.3 609.0 L166.2 520.0 L167.7 517.0 L168.3 457.0 L169.6 399.0 L171.0 354.0 L172.0 302.0 L174.5 296.0 L176.2 269.4 L177.9 242.7 L180.1 273.7 L181.6 376.6 L182.5 395.0 L183.5 440.0 L185.8 441.0 L187.2 472.0 L188.7 460.3 L190.2 448.6 L191.0 517.0 L192.8 526.0 L194.5 535.0 L196.0 409.0 L198.5 334.0 L199.9 339.8 L201.3 345.6 L203.3 391.7 L205.0 337.0 L206.0 368.0 L207.9 325.8 L209.8 283.6 L211.2 283.6 L212.6 283.6 L214.0 325.2 L215.4 366.8 L216.8 320.2 L218.2 273.7 L219.6 206.0 L221.5 286.4 L223.0 131.3 L224.4 135.5 L225.8 139.7 L226.7 232.8 L228.0 165.0 L229.5 306.0 L230.5 244.0 L232.1 249.0 L233.7 254.0 L235.0 362.5 L236.5 383.7 L238.3 445.7 L240.5 462.0 L241.3 448.0 L242.7 504.0 L243.6 504.7 L244.8 469.0 L246.0 531.0 L247.3 535.0 L249.9 603.0 L252.4 587.8 L254.9 517.3 L256.2 543.7 L257.7 568.2 L259.2 592.8 L261.2 538.7 L262.4 480.8 L263.7 528.6 L265.0 458.0 L266.7 451.8 L267.5 528.6 L270.0 456.8 L272.5 469.4 L273.8 493.4 L275.8 572.7 L276.8 502.2 L278.3 422.8 L280.1 321.3 L282.6 255.8 L283.9 389.3 L284.4 239.4 L286.4 223.0 L288.9 225.6 L291.4 220.5 L292.7 268.4 L295.2 384.3 L296.5 255.8 L299.0 301.0 L301.0 186.5 L302.5 204.8 L304.0 223.0 L305.3 293.6 L307.3 378.0 L308.5 346.5 L310.1 321.3 L311.6 296.1 L314.1 281.0 L315.3 359.0 L316.6 272.2 L317.9 341.4 L319.1 323.8 L321.6 376.7 L322.9 429.0 L323.7 323.8 L324.2 391.8 L326.1 391.8 L328.0 391.8 L330.0 391.7 L330.5 441.7 L332.5 417.8 L333.0 485.8 L333.8 485.8 L335.0 458.0 L335.5 366.6 L337.6 434.2 L338.8 366.5 L340.1 301.0 L342.1 207.8 L343.9 202.7 L345.6 321.1 L346.4 235.5 L347.6 275.8 L350.2 280.8 L351.4 270.8 L352.7 313.6 L353.5 351.4 L355.2 328.7 L356.4 396.7 L357.2 409.3 L359.0 361.4 L360.7 307.3 L361.5 391.3 L362.2 391.7 L364.0 358.9 L365.3 376.5 L367.8 396.7 L369.0 319.9 L370.3 371.5 L371.6 414.3 L374.1 391.7 L375.3 420.3 L377.4 355.1 L379.1 404.3 L380.4 427.9 L382.9 386.3 L383.5 429.1 L384.2 444.2 L385.4 461.9 L386.7 512.2 L389.2 463.1 L391.7 498.4 L394.2 415.3 L396.0 473.2 L397.5 575.2 L398.0 498.4 L400.5 495.9 L401.8 432.9 L403.0 440.5 L404.3 495.9 L405.6 556.3 L407.6 494.6 L410.1 500.9 L410.6 519.8 L411.9 561.4 L414.4 592.8 L415.6 541.2 L417.7 537.4 L419.4 558.8 L421.9 568.9 L423.7 524.8 L425.0 538.7 L425.2 485.8 L425.6 523.6 L427.0 465.6 L427.5 490.8 L428.2 394.2 L428.8 463.1 L429.5 395.0 L430.0 492.1 L431.3 395.1 L432.5 420.0 L433.8 448.0 L435.1 388.8 L437.6 425.3 L438.9 405.2 L440.1 444.2 L441.4 382.5 L442.6 400.2 L443.9 403.0 L445.2 487.0 L446.4 443.0 L448.9 521.0 L450.2 405.2 L451.0 409.4 L452.7 383.8 L455.2 375.4 L456.5 395.1 L457.7 426.6 L459.0 352.7 L460.3 386.3 L461.5 312.4 L462.2 331.3 L462.8 354.0 L464.0 338.8 L465.3 264.5 L466.6 230.5 L469.1 180.2 L470.3 337.6 L471.6 274.6 L474.1 255.7 L475.4 301.1 L476.6 254.5 L479.2 332.5 L480.9 296.0 L482.4 231.8 L484.2 286.0 L485.5 214.2 L488.0 215.4 L490.0 223.0 L491.0 241.9 L492.5 249.4 L494.3 301.1 L495.5 272.1 L496.8 323.7 L498.0 268.3 L499.3 330.0 L501.8 257.0 L503.1 361.5 L505.6 381.7 L506.5 387.6 L508.1 360.3 L509.4 431.6 L510.6 393.0 L511.9 395.1 L514.4 445.5 L515.2 456.8 L517.7 390.0 L519.5 420.3 L520.0 420.3 L522.0 480.8 L522.5 480.8 L523.2 434.2 L523.8 435.4 L524.5 405.2 L526.3 405.2 L528.8 468.2 L531.3 426.6 L532.6 511.0 L535.1 479.5 L536.4 521.0 L538.1 584.0 L540.2 474.5 L541.4 521.0 L543.2 483.3 L544.5 503.4 L545.2 556.3 L547.7 558.8 L550.2 546.2 L551.5 482.0 L554.0 541.2 L555.3 475.7 L556.5 440.5 L559.0 439.2 L560.3 443.0 L561.6 446.8 L564.1 474.5 L565.3 495.9 L566.6 511.0 L569.1 477.0 L570.4 556.3 L572.9 485.8 L574.2 532.4 L576.7 511.0 L579.2 524.8 L580.5 495.9 L582.4 507.2 L584.2 518.5 L586.0 471.9 L588.0 477.0 L589.3 546.2 L591.8 497.1 L593.0 489.6 L594.3 563.9 L595.6 500.9 L596.8 591.6 L599.3 609.2 L600.6 556.3 L603.1 584.0 L604.4 485.8 L606.9 498.4 L608.2 511.0 L608.7 615.5 L610.7 531.1 L613.2 516.0 L614.5 601.7 L617.0 503.4 L618.2 624.3 L619.7 627.2 L621.2 599.1 L622.8 571.0 L624.3 578.8 L625.9 586.6 L627.5 521.1 L629.0 561.7 L630.6 488.3 L632.2 502.3 L633.7 549.2 L635.3 582.0 L636.9 614.7 L638.4 505.5 L640.0 555.4 L641.5 496.1 L643.1 481.2 L644.7 466.4 L646.2 527.3 L647.8 494.5 L649.3 553.9 L650.9 452.4 L652.5 533.6 L654.0 582.0 L655.6 552.3 L657.2 552.3 L658.7 552.3 L661.2 572.6 L662.5 519.5 L663.4 433.7 L665.0 424.3 L666.5 436.8 L668.7 354.0 L670.0 439.9 L671.8 449.3 L673.7 400.9 L675.3 441.5 L677.4 422.7 L678.4 516.4 L680.6 488.3 L682.2 489.1 L683.7 489.9 L685.2 558.5 L687.4 574.2 L688.4 606.9 L690.0 587.4 L691.5 567.9 L693.7 539.8 L694.6 633.5 L696.2 589.8 L697.8 594.5 L699.3 599.1 L701.8 549.2 L704.0 611.6 L706.2 578.8 L708.7 649.1 L710.0 590.9 L711.3 661.4 L711.8 580.4 L712.5 580.8 L714.3 577.3 L715.0 658.9 L716.3 584.6 L717.6 570.8 L719.6 611.0 L721.3 643.8 L722.6 631.2 L723.9 618.6 L725.1 648.8 L726.4 593.4 L728.1 553.1 L730.2 573.3 L731.4 623.7 L733.9 621.1 L735.2 647.6 L736.4 595.9 L737.7 595.9 L739.0 595.9 L740.2 624.9 L742.7 606.0 L745.3 641.3 L747.8 603.5 L749.8 601.0 L750.8 641.3 L751.6 580.8 L754.1 580.8 L755.3 597.2 L756.6 602.9 L757.9 608.5 L760.4 580.8 L761.2 607.3 L761.8 642.3 L763.4 657.4 L764.0 688.6 L764.8 711.8 L766.1 720.3 L767.4 728.9 L768.4 676.5 L769.9 669.5 L771.4 662.4 L773.4 700.7 L774.5 684.6 L775.5 755.1 L776.5 640.3 L778.5 676.5 L779.5 743.0 L781.5 694.7 L783.5 710.8 L785.5 689.6 L787.5 668.5 L788.1 739.0 L789.6 704.7 L791.0 755.1 L792.3 726.9 L793.6 698.7 L795.6 702.7 L797.6 750.1 L799.6 737.0 L801.6 722.9 L802.6 694.7 L804.7 678.5 L806.7 688.6 L808.3 646.3 L809.0 645.5 L811.0 690.8 L813.1 720.0 L815.1 694.9 L817.1 702.9 L818.7 736.2 L819.5 679.8 L821.1 715.0 L822.7 654.6 L824.1 682.8 L825.1 719.0 L826.1 745.2 L827.2 680.8 L829.2 715.0 L831.2 723.1 L833.2 698.9 L834.2 737.2 L835.2 684.8 L836.8 734.1 L837.2 620.4 L838.7 605.2 L840.2 590.1 L841.3 640.5 L842.7 674.7 L844.3 640.5 L846.3 646.5 L848.3 681.8 L849.3 653.6 L851.3 630.4 L852.3 688.8 L854.3 600.2 L856.4 616.3 L858.4 599.2 L860.4 623.4 L862.4 630.4 L863.4 638.5 L864.4 668.7 L865.4 694.9 L867.4 672.7 L869.5 676.7 L870.5 732.1 L872.5 741.2 L874.5 709.0 L875.5 673.7 L877.0 675.2 L878.5 676.7 L880.5 698.9 L882.5 723.1 L884.6 709.0 L886.6 727.1 L888.0 731.1 L889.6 702.9 L891.6 719.0 L892.6 673.7 L893.6 711.0 L894.6 626.4 L895.0 691.7 L897.5 562.0 L898.8 661.5 L901.3 596.0 L903.8 570.8 L905.1 636.3 L906.3 601.1 L907.6 588.5 L908.9 575.9 L910.1 613.7 L911.4 550.7 L912.6 616.2 L913.9 577.2 L915.2 538.1 L916.4 601.1 L918.9 597.3 L920.2 636.3 L922.2 575.9 L924.0 530.5 L925.2 628.8 L926.5 616.2 L927.7 575.9 L929.0 553.2 L930.3 524.2 L931.5 506.6 L932.8 476.4 L934.8 482.7 L935.3 534.3 L936.6 596.0 L939.1 507.9 L941.6 525.5 L942.9 548.2 L944.5 544.4 L944.9 600.0 L945.6 610.5 L946.5 641.9 L948.1 679.0 L949.7 641.1 L951.0 727.4 L952.1 677.4 L954.5 680.6 L956.9 719.4 L958.5 656.5 L961.0 698.4 L961.3 659.7 L962.8 667.0 L964.2 674.2 L965.0 717.7 L966.6 746.0 L969.0 675.0 L971.5 712.9 L973.9 746.8 L976.3 701.6 L978.7 700.8 L980.3 729.0 L982.7 691.9 L985.1 728.9 L986.8 675.8 L988.4 741.9 L990.0 758.0 L991.6 725.8 L992.2 772.2 L993.2 728.9 L995.2 748.0 L997.2 782.3 L999.2 711.8 L1001.3 743.0 L1002.3 705.7 L1003.8 683.0 L1005.3 660.4 L1007.3 702.7 L1009.3 752.1 L1010.8 748.5 L1012.3 745.0 L1013.3 692.6 L1015.4 714.8 L1017.4 761.1 L1019.4 702.7 L1021.4 677.5 L1022.4 761.1 L1024.4 712.8 L1026.4 658.4 L1028.4 739.0 L1030.5 704.7 L1032.0 701.7 L1033.5 698.7 L1035.5 732.9 L1037.5 665.5 L1039.5 671.5 L1041.9 793.3 L1042.5 763.1 L1044.6 714.8 L1046.6 677.5 L1048.1 678.0 L1049.6 678.5 L1051.6 726.9 L1053.6 744.0 L1055.6 704.7 L1057.2 668.5 L1058.7 696.7 L1060.1 762.1 L1061.3 706.2 L1062.5 761.7 L1065.0 711.3 L1067.6 696.2 L1069.6 736.5 L1070.6 634.5 L1072.6 691.1 L1073.9 655.9 L1076.4 693.7 L1078.1 654.6 L1080.2 688.6 L1082.7 737.7 L1083.9 650.8 L1086.4 650.8 L1087.7 721.4 L1089.7 701.2 L1091.5 734.0 L1094.0 701.2 L1095.3 721.4 L1097.8 643.3 L1099.0 671.0 L1100.8 703.7 L1102.4 710.0 L1104.1 716.3 L1105.8 678.5 L1107.4 640.8 L1109.1 749.1 L1111.6 746.5 L1112.9 714.4 L1114.2 682.3 L1116.7 760.4 L1119.2 703.7 L1121.7 721.4 L1123.0 784.3 L1125.5 728.9 L1126.8 711.3 L1128.0 650.8 L1130.5 630.7 L1133.0 643.3 L1134.3 703.7 L1135.6 650.8 L1138.1 587.9 L1139.3 708.8 L1141.1 587.9 L1143.1 660.9 L1144.4 576.5 L1146.1 572.7 L1148.2 576.5 L1150.2 595.4 L1151.9 620.6 L1153.7 674.8 L1155.7 629.4 L1157.7 688.6 L1159.5 649.6 L1160.8 671.0 L1162.8 677.3 L1164.5 686.1 L1165.1 696.0 L1167.4 687.0 L1168.1 756.3 L1170.5 700.0 L1172.0 685.1 L1173.4 670.2 L1174.2 776.7" stroke="#000" stroke-width="3.6" fill="none" stroke-linejoin="round"/><path d="M106.8 304.0h0M108.7 415.0h0M110.9 265.0h0M112.7 300.0h0M114.5 304.3h0M116.3 348.7h0M117.2 406.7h0M118.6 486.6h0M120.0 556.7h0M122.0 590.0h0M124.4 618.0h0M125.9 533.0h0M127.4 502.7h0M128.8 546.5h0M130.2 521.0h0M131.7 495.4h0M133.2 548.0h0M134.7 488.0h0M135.5 618.0h0M136.1 546.5h0M137.6 560.2h0M139.0 574.0h0M140.5 612.0h0M142.5 600.0h0M144.9 572.8h0M146.3 613.6h0M147.8 599.0h0M149.3 584.4h0M150.7 647.0h0M151.6 659.0h0M153.6 562.5h0M156.0 562.5h0M156.6 618.0h0M159.0 600.0h0M161.0 558.0h0M161.8 629.7h0M163.9 529.0h0M165.3 609.0h0M166.2 520.0h0M167.7 517.0h0M168.3 457.0h0M169.6 399.0h0M171.0 354.0h0M172.0 302.0h0M174.5 296.0h0M176.2 269.4h0M177.9 242.7h0M180.1 273.7h0M181.6 376.6h0M182.5 395.0h0M183.5 440.0h0M185.8 441.0h0M187.2 472.0h0M188.7 460.3h0M190.2 448.6h0M191.0 517.0h0M192.8 526.0h0M194.5 535.0h0M196.0 409.0h0M198.5 334.0h0M199.9 339.8h0M201.3 345.6h0M203.3 391.7h0M205.0 337.0h0M206.0 368.0h0M207.9 325.8h0M209.8 283.6h0M211.2 283.6h0M212.6 283.6h0M214.0 325.2h0M215.4 366.8h0M216.8 320.2h0M218.2 273.7h0M219.6 206.0h0M221.5 286.4h0M223.0 131.3h0M224.4 135.5h0M225.8 139.7h0M226.7 232.8h0M228.0 165.0h0M229.5 306.0h0M230.5 244.0h0M232.1 249.0h0M233.7 254.0h0M235.0 362.5h0M236.5 383.7h0M238.3 445.7h0M240.5 462.0h0M241.3 448.0h0M242.7 504.0h0M243.6 504.7h0M244.8 469.0h0M246.0 531.0h0M247.3 535.0h0M249.9 603.0h0M252.4 587.8h0M254.9 517.3h0M256.2 543.7h0M257.7 568.2h0M259.2 592.8h0M261.2 538.7h0M262.4 480.8h0M263.7 528.6h0M265.0 458.0h0M266.7 451.8h0M267.5 528.6h0M270.0 456.8h0M272.5 469.4h0M273.8 493.4h0M275.8 572.7h0M276.8 502.2h0M278.3 422.8h0M280.1 321.3h0M282.6 255.8h0M283.9 389.3h0M284.4 239.4h0M286.4 223.0h0M288.9 225.6h0M291.4 220.5h0M292.7 268.4h0M295.2 384.3h0M296.5 255.8h0M299.0 301.0h0M301.0 186.5h0M302.5 204.8h0M304.0 223.0h0M305.3 293.6h0M307.3 378.0h0M308.5 346.5h0M310.1 321.3h0M311.6 296.1h0M314.1 281.0h0M315.3 359.0h0M316.6 272.2h0M317.9 341.4h0M319.1 323.8h0M321.6 376.7h0M322.9 429.0h0M323.7 323.8h0M324.2 391.8h0M326.1 391.8h0M328.0 391.8h0M330.0 391.7h0M330.5 441.7h0M332.5 417.8h0M333.0 485.8h0M333.8 485.8h0M335.0 458.0h0M335.5 366.6h0M337.6 434.2h0M338.8 366.5h0M340.1 301.0h0M342.1 207.8h0M343.9 202.7h0M345.6 321.1h0M346.4 235.5h0M347.6 275.8h0M350.2 280.8h0M351.4 270.8h0M352.7 313.6h0M353.5 351.4h0M355.2 328.7h0M356.4 396.7h0M357.2 409.3h0M359.0 361.4h0M360.7 307.3h0M361.5 391.3h0M362.2 391.7h0M364.0 358.9h0M365.3 376.5h0M367.8 396.7h0M369.0 319.9h0M370.3 371.5h0M371.6 414.3h0M374.1 391.7h0M375.3 420.3h0M377.4 355.1h0M379.1 404.3h0M380.4 427.9h0M382.9 386.3h0M383.5 429.1h0M384.2 444.2h0M385.4 461.9h0M386.7 512.2h0M389.2 463.1h0M391.7 498.4h0M394.2 415.3h0M396.0 473.2h0M397.5 575.2h0M398.0 498.4h0M400.5 495.9h0M401.8 432.9h0M403.0 440.5h0M404.3 495.9h0M405.6 556.3h0M407.6 494.6h0M410.1 500.9h0M410.6 519.8h0M411.9 561.4h0M414.4 592.8h0M415.6 541.2h0M417.7 537.4h0M419.4 558.8h0M421.9 568.9h0M423.7 524.8h0M425.0 538.7h0M425.2 485.8h0M425.6 523.6h0M427.0 465.6h0M427.5 490.8h0M428.2 394.2h0M428.8 463.1h0M429.5 395.0h0M430.0 492.1h0M431.3 395.1h0M432.5 420.0h0M433.8 448.0h0M435.1 388.8h0M437.6 425.3h0M438.9 405.2h0M440.1 444.2h0M441.4 382.5h0M442.6 400.2h0M443.9 403.0h0M445.2 487.0h0M446.4 443.0h0M448.9 521.0h0M450.2 405.2h0M451.0 409.4h0M452.7 383.8h0M455.2 375.4h0M456.5 395.1h0M457.7 426.6h0M459.0 352.7h0M460.3 386.3h0M461.5 312.4h0M462.2 331.3h0M462.8 354.0h0M464.0 338.8h0M465.3 264.5h0M466.6 230.5h0M469.1 180.2h0M470.3 337.6h0M471.6 274.6h0M474.1 255.7h0M475.4 301.1h0M476.6 254.5h0M479.2 332.5h0M480.9 296.0h0M482.4 231.8h0M484.2 286.0h0M485.5 214.2h0M488.0 215.4h0M490.0 223.0h0M491.0 241.9h0M492.5 249.4h0M494.3 301.1h0M495.5 272.1h0M496.8 323.7h0M498.0 268.3h0M499.3 330.0h0M501.8 257.0h0M503.1 361.5h0M505.6 381.7h0M506.5 387.6h0M508.1 360.3h0M509.4 431.6h0M510.6 393.0h0M511.9 395.1h0M514.4 445.5h0M515.2 456.8h0M517.7 390.0h0M519.5 420.3h0M520.0 420.3h0M522.0 480.8h0M522.5 480.8h0M523.2 434.2h0M523.8 435.4h0M524.5 405.2h0M526.3 405.2h0M528.8 468.2h0M531.3 426.6h0M532.6 511.0h0M535.1 479.5h0M536.4 521.0h0M538.1 584.0h0M540.2 474.5h0M541.4 521.0h0M543.2 483.3h0M544.5 503.4h0M545.2 556.3h0M547.7 558.8h0M550.2 546.2h0M551.5 482.0h0M554.0 541.2h0M555.3 475.7h0M556.5 440.5h0M559.0 439.2h0M560.3 443.0h0M561.6 446.8h0M564.1 474.5h0M565.3 495.9h0M566.6 511.0h0M569.1 477.0h0M570.4 556.3h0M572.9 485.8h0M574.2 532.4h0M576.7 511.0h0M579.2 524.8h0M580.5 495.9h0M582.4 507.2h0M584.2 518.5h0M586.0 471.9h0M588.0 477.0h0M589.3 546.2h0M591.8 497.1h0M593.0 489.6h0M594.3 563.9h0M595.6 500.9h0M596.8 591.6h0M599.3 609.2h0M600.6 556.3h0M603.1 584.0h0M604.4 485.8h0M606.9 498.4h0M608.2 511.0h0M608.7 615.5h0M610.7 531.1h0M613.2 516.0h0M614.5 601.7h0M617.0 503.4h0M618.2 624.3h0M619.7 627.2h0M621.2 599.1h0M622.8 571.0h0M624.3 578.8h0M625.9 586.6h0M627.5 521.1h0M629.0 561.7h0M630.6 488.3h0M632.2 502.3h0M633.7 549.2h0M635.3 582.0h0M636.9 614.7h0M638.4 505.5h0M640.0 555.4h0M641.5 496.1h0M643.1 481.2h0M644.7 466.4h0M646.2 527.3h0M647.8 494.5h0M649.3 553.9h0M650.9 452.4h0M652.5 533.6h0M654.0 582.0h0M655.6 552.3h0M657.2 552.3h0M658.7 552.3h0M661.2 572.6h0M662.5 519.5h0M663.4 433.7h0M665.0 424.3h0M666.5 436.8h0M668.7 354.0h0M670.0 439.9h0M671.8 449.3h0M673.7 400.9h0M675.3 441.5h0M677.4 422.7h0M678.4 516.4h0M680.6 488.3h0M682.2 489.1h0M683.7 489.9h0M685.2 558.5h0M687.4 574.2h0M688.4 606.9h0M690.0 587.4h0M691.5 567.9h0M693.7 539.8h0M694.6 633.5h0M696.2 589.8h0M697.8 594.5h0M699.3 599.1h0M701.8 549.2h0M704.0 611.6h0M706.2 578.8h0M708.7 649.1h0M710.0 590.9h0M711.3 661.4h0M711.8 580.4h0M712.5 580.8h0M714.3 577.3h0M715.0 658.9h0M716.3 584.6h0M717.6 570.8h0M719.6 611.0h0M721.3 643.8h0M722.6 631.2h0M723.9 618.6h0M725.1 648.8h0M726.4 593.4h0M728.1 553.1h0M730.2 573.3h0M731.4 623.7h0M733.9 621.1h0M735.2 647.6h0M736.4 595.9h0M737.7 595.9h0M739.0 595.9h0M740.2 624.9h0M742.7 606.0h0M745.3 641.3h0M747.8 603.5h0M749.8 601.0h0M750.8 641.3h0M751.6 580.8h0M754.1 580.8h0M755.3 597.2h0M756.6 602.9h0M757.9 608.5h0M760.4 580.8h0M761.2 607.3h0M761.8 642.3h0M763.4 657.4h0M764.0 688.6h0M764.8 711.8h0M766.1 720.3h0M767.4 728.9h0M768.4 676.5h0M769.9 669.5h0M771.4 662.4h0M773.4 700.7h0M774.5 684.6h0M775.5 755.1h0M776.5 640.3h0M778.5 676.5h0M779.5 743.0h0M781.5 694.7h0M783.5 710.8h0M785.5 689.6h0M787.5 668.5h0M788.1 739.0h0M789.6 704.7h0M791.0 755.1h0M792.3 726.9h0M793.6 698.7h0M795.6 702.7h0M797.6 750.1h0M799.6 737.0h0M801.6 722.9h0M802.6 694.7h0M804.7 678.5h0M806.7 688.6h0M808.3 646.3h0M809.0 645.5h0M811.0 690.8h0M813.1 720.0h0M815.1 694.9h0M817.1 702.9h0M818.7 736.2h0M819.5 679.8h0M821.1 715.0h0M822.7 654.6h0M824.1 682.8h0M825.1 719.0h0M826.1 745.2h0M827.2 680.8h0M829.2 715.0h0M831.2 723.1h0M833.2 698.9h0M834.2 737.2h0M835.2 684.8h0M836.8 734.1h0M837.2 620.4h0M838.7 605.2h0M840.2 590.1h0M841.3 640.5h0M842.7 674.7h0M844.3 640.5h0M846.3 646.5h0M848.3 681.8h0M849.3 653.6h0M851.3 630.4h0M852.3 688.8h0M854.3 600.2h0M856.4 616.3h0M858.4 599.2h0M860.4 623.4h0M862.4 630.4h0M863.4 638.5h0M864.4 668.7h0M865.4 694.9h0M867.4 672.7h0M869.5 676.7h0M870.5 732.1h0M872.5 741.2h0M874.5 709.0h0M875.5 673.7h0M877.0 675.2h0M878.5 676.7h0M880.5 698.9h0M882.5 723.1h0M884.6 709.0h0M886.6 727.1h0M888.0 731.1h0M889.6 702.9h0M891.6 719.0h0M892.6 673.7h0M893.6 711.0h0M894.6 626.4h0M895.0 691.7h0M897.5 562.0h0M898.8 661.5h0M901.3 596.0h0M903.8 570.8h0M905.1 636.3h0M906.3 601.1h0M907.6 588.5h0M908.9 575.9h0M910.1 613.7h0M911.4 550.7h0M912.6 616.2h0M913.9 577.2h0M915.2 538.1h0M916.4 601.1h0M918.9 597.3h0M920.2 636.3h0M922.2 575.9h0M924.0 530.5h0M925.2 628.8h0M926.5 616.2h0M927.7 575.9h0M929.0 553.2h0M930.3 524.2h0M931.5 506.6h0M932.8 476.4h0M934.8 482.7h0M935.3 534.3h0M936.6 596.0h0M939.1 507.9h0M941.6 525.5h0M942.9 548.2h0M944.5 544.4h0M944.9 600.0h0M945.6 610.5h0M946.5 641.9h0M948.1 679.0h0M949.7 641.1h0M951.0 727.4h0M952.1 677.4h0M954.5 680.6h0M956.9 719.4h0M958.5 656.5h0M961.0 698.4h0M961.3 659.7h0M962.8 667.0h0M964.2 674.2h0M965.0 717.7h0M966.6 746.0h0M969.0 675.0h0M971.5 712.9h0M973.9 746.8h0M976.3 701.6h0M978.7 700.8h0M980.3 729.0h0M982.7 691.9h0M985.1 728.9h0M986.8 675.8h0M988.4 741.9h0M990.0 758.0h0M991.6 725.8h0M992.2 772.2h0M993.2 728.9h0M995.2 748.0h0M997.2 782.3h0M999.2 711.8h0M1001.3 743.0h0M1002.3 705.7h0M1003.8 683.0h0M1005.3 660.4h0M1007.3 702.7h0M1009.3 752.1h0M1010.8 748.5h0M1012.3 745.0h0M1013.3 692.6h0M1015.4 714.8h0M1017.4 761.1h0M1019.4 702.7h0M1021.4 677.5h0M1022.4 761.1h0M1024.4 712.8h0M1026.4 658.4h0M1028.4 739.0h0M1030.5 704.7h0M1032.0 701.7h0M1033.5 698.7h0M1035.5 732.9h0M1037.5 665.5h0M1039.5 671.5h0M1041.9 793.3h0M1042.5 763.1h0M1044.6 714.8h0M1046.6 677.5h0M1048.1 678.0h0M1049.6 678.5h0M1051.6 726.9h0M1053.6 744.0h0M1055.6 704.7h0M1057.2 668.5h0M1058.7 696.7h0M1060.1 762.1h0M1061.3 706.2h0M1062.5 761.7h0M1065.0 711.3h0M1067.6 696.2h0M1069.6 736.5h0M1070.6 634.5h0M1072.6 691.1h0M1073.9 655.9h0M1076.4 693.7h0M1078.1 654.6h0M1080.2 688.6h0M1082.7 737.7h0M1083.9 650.8h0M1086.4 650.8h0M1087.7 721.4h0M1089.7 701.2h0M1091.5 734.0h0M1094.0 701.2h0M1095.3 721.4h0M1097.8 643.3h0M1099.0 671.0h0M1100.8 703.7h0M1102.4 710.0h0M1104.1 716.3h0M1105.8 678.5h0M1107.4 640.8h0M1109.1 749.1h0M1111.6 746.5h0M1112.9 714.4h0M1114.2 682.3h0M1116.7 760.4h0M1119.2 703.7h0M1121.7 721.4h0M1123.0 784.3h0M1125.5 728.9h0M1126.8 711.3h0M1128.0 650.8h0M1130.5 630.7h0M1133.0 643.3h0M1134.3 703.7h0M1135.6 650.8h0M1138.1 587.9h0M1139.3 708.8h0M1141.1 587.9h0M1143.1 660.9h0M1144.4 576.5h0M1146.1 572.7h0M1148.2 576.5h0M1150.2 595.4h0M1151.9 620.6h0M1153.7 674.8h0M1155.7 629.4h0M1157.7 688.6h0M1159.5 649.6h0M1160.8 671.0h0M1162.8 677.3h0M1164.5 686.1h0M1165.1 696.0h0M1167.4 687.0h0M1168.1 756.3h0M1170.5 700.0h0M1172.0 685.1h0M1173.4 670.2h0M1174.2 776.7h0" stroke="#000" stroke-width="6.8" stroke-linecap="round" fill="none"/><text x="92" y="806.7" text-anchor="end" font-size="33.2" fill="#262626" stroke="#262626" stroke-width="0.4" font-family="'Liberation Sans', sans-serif">10</text><text x="92" y="681.2" text-anchor="end" font-size="33.2" fill="#262626" stroke="#262626" stroke-width="0.4" font-family="'Liberation Sans', sans-serif">15</text><text x="92" y="555.6" text-anchor="end" font-size="33.2" fill="#262626" stroke="#262626" stroke-width="0.4" font-family="'Liberation Sans', sans-serif">20</text><text x="92" y="430.1" text-anchor="end" font-size="33.2" fill="#262626" stroke="#262626" stroke-width="0.4" font-family="'Liberation Sans', sans-serif">25</text><text x="92" y="304.6" text-anchor="end" font-size="33.2" fill="#262626" stroke="#262626" stroke-width="0.4" font-family="'Liberation Sans', sans-serif">30</text><text x="92" y="179.0" text-anchor="end" font-size="33.2" fill="#262626" stroke="#262626" stroke-width="0.4" font-family="'Liberation Sans', sans-serif">35</text><text x="92" y="53.5" text-anchor="end" font-size="33.2" fill="#262626" stroke="#262626" stroke-width="0.4" font-family="'Liberation Sans', sans-serif">40</text><text transform="translate(122.3 823.72) rotate(-45)" text-anchor="end" font-size="33.2" fill="#262626" stroke="#262626" stroke-width="0.4" font-family="'Liberation Sans', sans-serif" dy="0.35em">29/11/2021</text><text transform="translate(241.5 823.72) rotate(-45)" text-anchor="end" font-size="33.2" fill="#262626" stroke="#262626" stroke-width="0.4" font-family="'Liberation Sans', sans-serif" dy="0.35em">9/3/2022</text><text transform="translate(360.8 823.72) rotate(-45)" text-anchor="end" font-size="33.2" fill="#262626" stroke="#262626" stroke-width="0.4" font-family="'Liberation Sans', sans-serif" dy="0.35em">19/6/2022</text><text transform="translate(480.0 823.72) rotate(-45)" text-anchor="end" font-size="33.2" fill="#262626" stroke="#262626" stroke-width="0.4" font-family="'Liberation Sans', sans-serif" dy="0.35em">29/9/2022</text><text transform="translate(599.2 823.72) rotate(-45)" text-anchor="end" font-size="33.2" fill="#262626" stroke="#262626" stroke-width="0.4" font-family="'Liberation Sans', sans-serif" dy="0.35em">9/1/2023</text><text transform="translate(718.5 823.72) rotate(-45)" text-anchor="end" font-size="33.2" fill="#262626" stroke="#262626" stroke-width="0.4" font-family="'Liberation Sans', sans-serif" dy="0.35em">19/4/2023</text><text transform="translate(837.7 823.72) rotate(-45)" text-anchor="end" font-size="33.2" fill="#262626" stroke="#262626" stroke-width="0.4" font-family="'Liberation Sans', sans-serif" dy="0.35em">29/7/2023</text><text transform="translate(957.0 823.72) rotate(-45)" text-anchor="end" font-size="33.2" fill="#262626" stroke="#262626" stroke-width="0.4" font-family="'Liberation Sans', sans-serif" dy="0.35em">9/10/2023</text><text transform="translate(1076.2 823.72) rotate(-45)" text-anchor="end" font-size="33.2" fill="#262626" stroke="#262626" stroke-width="0.4" font-family="'Liberation Sans', sans-serif" dy="0.35em">19/1/2024</text><text transform="translate(1195.5 823.72) rotate(-45)" text-anchor="end" font-size="33.2" fill="#262626" stroke="#262626" stroke-width="0.4" font-family="'Liberation Sans', sans-serif" dy="0.35em">9/4/2024</text><text x="644" y="993" text-anchor="middle" font-size="36.5" fill="#262626" stroke="#262626" stroke-width="0.4" font-family="'Liberation Sans', sans-serif">Date</text><text transform="translate(36.5 418) rotate(-90)" text-anchor="middle" font-size="36.5" fill="#262626" stroke="#262626" stroke-width="0.4" font-family="'Liberation Sans', sans-serif">VIX</text><text x="644" y="25.8" text-anchor="middle" font-size="36.3" font-weight="bold" fill="#000" font-family="'Liberation Sans', sans-serif">Forecasted VIX: Case of EPU as input</text><rect x="822.4" y="67.3" width="332" height="90.6" fill="#fff" stroke="#262626" stroke-width="1.5"/><path d="M832.3 92.1H931.1" stroke="#f00" stroke-width="3"/><circle cx="881.8" cy="92.1" r="3.3" fill="#f00"/><path d="M832.3 133.5H931.1" stroke="#000" stroke-width="3"/><circle cx="881.8" cy="133.5" r="3.3" fill="#000"/><text x="938.4" y="104" font-size="29.8" fill="#000" stroke="#000" stroke-width="0.4" font-family="'Liberation Sans', sans-serif">Actual VIX</text><text x="938.4" y="145.4" font-size="29.8" fill="#000" stroke="#000" stroke-width="0.4" font-family="'Liberation Sans', sans-serif">Forecasted VIX</text></g></svg></div></body></html>
